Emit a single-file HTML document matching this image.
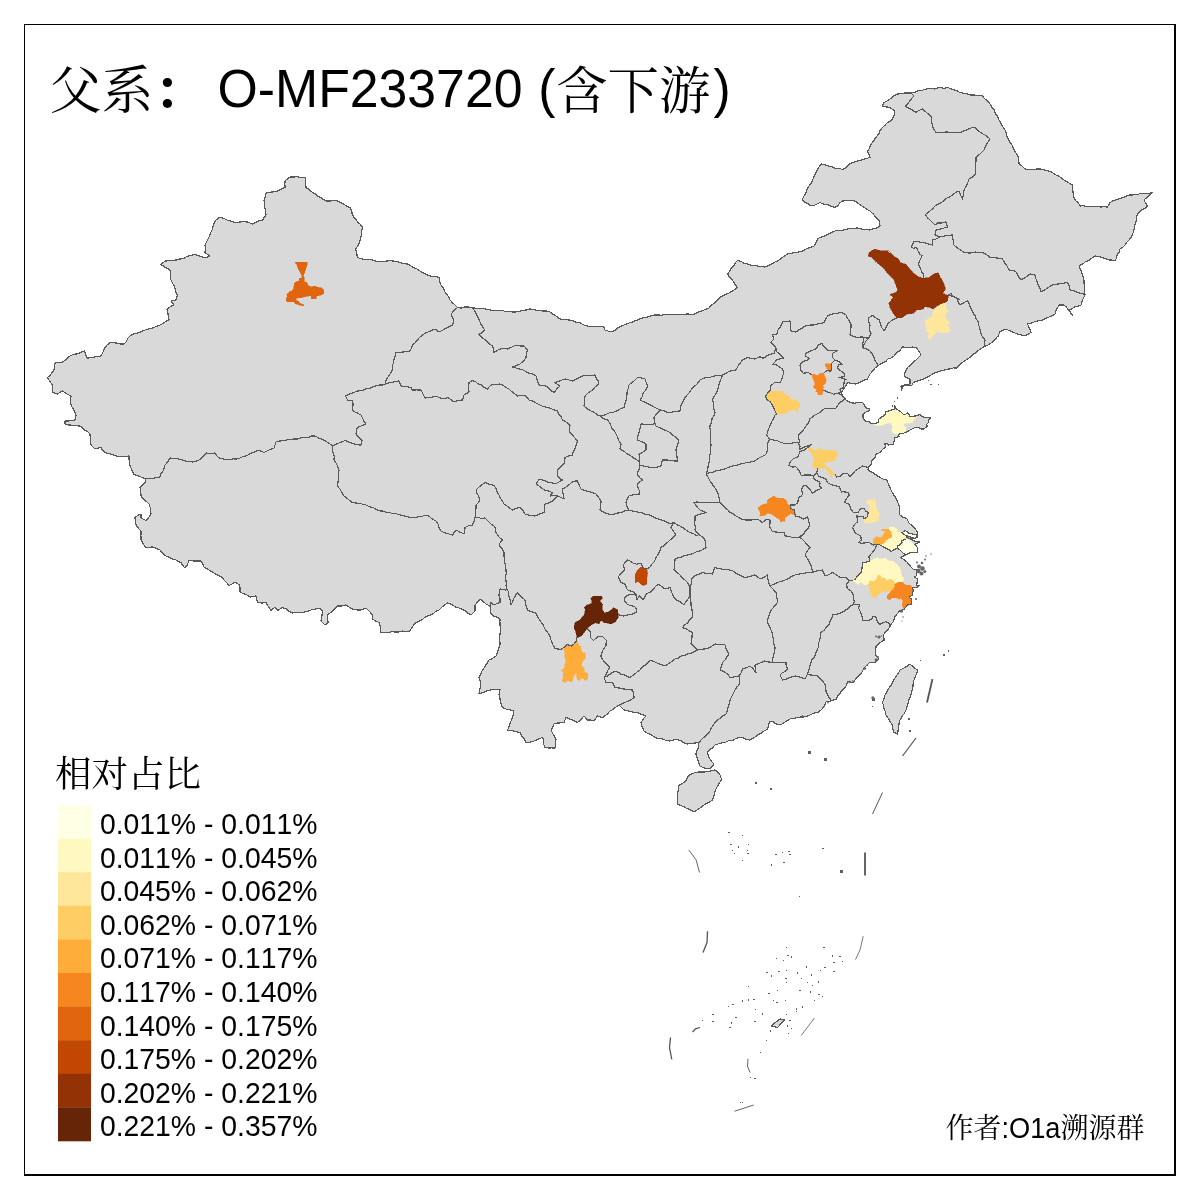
<!DOCTYPE html>
<html lang="zh">
<head>
<meta charset="utf-8">
<title>父系： O-MF233720 (含下游)</title>
<style>
html,body{margin:0;padding:0;background:#fff;}
body{width:1200px;height:1200px;overflow:hidden;position:relative;font-family:"Liberation Sans","Noto Serif CJK SC",sans-serif;}
svg{position:absolute;left:0;top:0;display:block;}
.land{fill:#d9d9d9;stroke:#595959;stroke-width:1.2;stroke-linejoin:round;shape-rendering:crispEdges;}
.bd{fill:none;stroke:#595959;stroke-width:1.2;stroke-linejoin:round;shape-rendering:crispEdges;}
.isl{fill:#d9d9d9;stroke:#595959;stroke-width:1.2;shape-rendering:crispEdges;}
.dash{fill:none;stroke:#555;stroke-width:1.6;}
.dot{fill:#666;}
.t{font-family:"Liberation Sans","Noto Serif CJK SC",sans-serif;fill:#000;font-kerning:none;}
.c{font-family:"Liberation Serif","Noto Serif CJK SC",serif;font-weight:400;fill:#000;}
</style>
</head>
<body>
<svg width="1200" height="1200" viewBox="0 0 1200 1200">
<rect x="0" y="0" width="1200" height="1200" fill="#ffffff"/>

<g id="land">
<path class="land" d="M290 177 L293.8 177 L297.5 176.7 L301.2 177.7 L305 177.5 L305.6 180.8 L305.8 184.2 L306 187.5 L309.1 189.4 L311.7 191.8 L314.8 193.6 L317.5 196 L320.5 197.3 L323.2 199.3 L326 201 L329.8 201.1 L333.7 200.6 L337.5 201 L340.6 202.7 L343.8 204.1 L346.6 206.3 L350 207.5 L351.8 210.7 L352.2 214.4 L354 217.5 L356.2 219.9 L358.2 222.5 L360.7 224.7 L362.5 227.5 L361.6 230.8 L361.6 234.3 L360.8 237.7 L360 241 L358.2 245.3 L355.5 249 L356.7 253.2 L357.5 257.5 L360.9 258.7 L364.4 259.4 L367.9 259.9 L371.6 259.8 L375 261 L378.5 261.5 L382 261.4 L385.5 261.3 L389 260.6 L392.5 261 L396.3 261.3 L400 262.4 L403.7 263.7 L407.5 264 L410.3 265.6 L413.1 267.4 L416.2 268.5 L418.9 270.3 L421.7 272.1 L424.5 273.7 L427.5 275 L431.3 276.2 L435.2 276.4 L439 277.5 L440 282.5 L441.3 285.6 L443.6 288.2 L444.7 291.4 L446.6 294.2 L448.6 296.9 L450 300 L452.4 302.6 L455 305 L457.5 307.5 L461.2 308 L465 307 L468.8 307.1 L472.5 307.5 L475.9 308.5 L479.4 308.9 L483.1 308.6 L486.5 309.2 L490 310 L493.2 310.3 L496.5 310.2 L499.7 310.7 L502.9 310.6 L506.1 311.7 L509.3 311.3 L512.5 312 L516.1 311.9 L519.6 311.3 L523.1 310.5 L526.6 309.9 L530 309 L533.4 309.4 L536.6 310.2 L540 310.8 L543.3 311 L546.7 311 L550 312 L553.3 314.4 L556.8 316.5 L560 319 L564.2 319.6 L568.3 319.9 L572.5 320.5 L576.1 322.3 L580.1 322.9 L583.6 324.9 L587.5 326 L590.8 326.4 L594.1 326.5 L597.4 326.1 L600.7 326.4 L604 327 L605 330 L611 332 L614.5 330.7 L617.4 328.2 L620.6 326.4 L624 325 L627.3 323.5 L630.8 322.5 L634.1 321.3 L637.5 320 L640.8 318.5 L644.3 317.5 L648 317 L651.4 315.7 L655 315 L658.2 315 L661.4 315.2 L664.6 314.3 L667.9 314.7 L671.1 314.5 L674.3 314.9 L677.5 314.5 L681 314.9 L684.5 314.2 L688 313.9 L691.5 314.5 L695 314 L698.3 312 L701.9 310.8 L705.5 309.4 L709 308 L711.5 305.1 L714.6 302.9 L717.3 300.1 L720 297.5 L723.2 295.6 L726.6 294.1 L730 292.5 L733.9 290.2 L737.5 287.5 L734.8 283.9 L732.5 280 L729.6 277.3 L727.5 274 L729.5 271.3 L731.2 268.4 L733.6 266 L735.2 263 L737.5 260.5 L740.8 261.2 L743.6 263.2 L746.9 263.7 L750 265 L753.8 265.3 L757.5 266 L761.2 266.7 L765 267 L768.2 265.7 L771.4 264.3 L774.3 262.3 L777.5 261 L780.8 258.6 L784.1 256.2 L787.5 254 L791.3 253.3 L795 252.6 L798.8 251.9 L802.5 251 L806.1 248.9 L810.1 247.5 L814 246 L816 242.6 L817.5 239 L820.2 237.2 L823.4 236.6 L826.3 235.2 L829.1 233.6 L832.1 232.3 L835 231 L838.2 230.3 L841.5 230.4 L844.6 229.7 L847.8 229 L851 228.3 L854.3 228.3 L857.5 228 L861.6 229.1 L865.8 229.5 L870 230 L873.4 228.8 L876.8 227.8 L880 226 L879 220 L875.6 217.4 L873.1 213.9 L870 211 L866.8 209.3 L863.9 207.1 L860.8 205.3 L857.9 203.1 L855 201 L850.8 200.6 L846.7 200.8 L842.5 201 L839.8 202.9 L837.8 205.7 L835 207.5 L831.2 206.5 L827.6 204.7 L823.6 204.2 L820 202.5 L817.1 204 L814.2 205.3 L811 206 L808.2 203.7 L804.8 202.2 L802 200 L803.9 196.2 L806 192.5 L807 189.4 L808.6 186.6 L810.5 184 L812.3 181.2 L813.3 178.2 L814.8 175.3 L816.1 172.3 L817.6 169.5 L819.2 166.7 L821 164 L824.7 164.6 L828.1 165.9 L831.8 166.6 L835.2 168.2 L839 168.4 L842.5 169.5 L846.1 167.5 L848.9 164.5 L852.5 162.5 L856 161.5 L859.5 160.6 L863 159.7 L866.5 158.4 L870 157.5 L868.8 154.2 L867.5 151 L869.4 148.3 L870.5 145.1 L872.5 142.5 L874.5 139.5 L876.6 136.6 L878.8 133.7 L880.2 130.3 L882.5 127.5 L884.9 125.3 L887.2 122.9 L890.1 121.3 L892.5 119 L894.1 115.1 L895 111 L890 107.5 L886.2 106.9 L882.5 106 L884 102.5 L887.6 100.7 L890.8 98.4 L893.8 95.7 L897.5 94 L900.9 93.7 L904.2 93 L907.6 93 L911 93 L914.6 92.4 L917.9 90.9 L921.5 90.4 L925 89.5 L928.2 88.7 L931.4 88.5 L934.7 89.1 L937.8 87.9 L941 87.7 L944.3 88.3 L947.5 87.5 L950.7 88.6 L953.9 89.7 L957 90.8 L960 92.5 L963.3 93.3 L966.8 93.7 L970 95 L974.2 95 L978.4 95.4 L982.5 96 L984.8 98.9 L987.8 101.1 L990 104 L991.8 107.1 L994 109.8 L995.2 113.3 L997.5 116 L998.9 119.8 L1000.8 123.2 L1002.7 126.7 L1005 130 L1006.2 133.1 L1007.1 136.4 L1008.6 139.4 L1010 142.5 L1012.2 145.4 L1013.5 148.9 L1015.3 152.1 L1017.5 155 L1018.8 159.4 L1019 164 L1022.2 166.2 L1025 169 L1028.8 169.3 L1032.5 169.3 L1036.2 169.1 L1040 169 L1043.2 169.5 L1046.3 170.5 L1049.5 171.3 L1052.5 172.5 L1055.1 174.7 L1058.4 175.8 L1061.1 177.7 L1063.8 179.8 L1066.7 181.6 L1069.6 183.3 L1072.5 185 L1072.8 189.2 L1073.1 193.4 L1074 197.5 L1075.6 200.6 L1078.4 202.9 L1080 206 L1083.5 205.6 L1086.9 206.7 L1090.3 206.8 L1093.8 206.4 L1097.2 206.5 L1100.6 207 L1104.1 206.8 L1107.5 207 L1110 202.5 L1113.2 200.8 L1116.6 199.7 L1119.9 198.5 L1123.4 197.6 L1126.5 195.9 L1130 195 L1133.2 194.9 L1136.5 194.8 L1139.6 193.8 L1142.9 193.6 L1146.1 193.4 L1149.3 193.2 L1152.5 192.5 L1149.6 194.9 L1146.8 197.5 L1144 200 L1145.5 203.1 L1147.5 206 L1145.3 208.4 L1142.2 209.6 L1139.7 211.7 L1137.5 214 L1136.5 217.5 L1136.2 221.1 L1134.9 224.5 L1134.7 228.1 L1133.4 231.5 L1132.5 235 L1130.3 238.5 L1127.4 241.6 L1125 245 L1122.7 247.2 L1120 249 L1119.2 252.2 L1117.2 254.9 L1116.5 258.1 L1115 261 L1111.7 260.1 L1108.2 259.8 L1105 258.4 L1101.7 257.4 L1098.4 256.5 L1095 256 L1091.9 258.2 L1088.8 260.3 L1085.3 261.9 L1082.3 264.2 L1079 266 L1080.5 269.4 L1081.8 272.9 L1082.9 276.5 L1084 280 L1084.1 283.8 L1084.6 287.5 L1084.6 291.3 L1085 295 L1083.4 298.2 L1082 301.5 L1081 305 L1078 306.2 L1074.8 307 L1072 308.7 L1069 310 L1072.5 315 L1070.4 312.5 L1068.4 309.9 L1066.5 307.2 L1064 305 L1059 305 L1057.5 307.9 L1055.9 310.8 L1055 314 L1052 315.8 L1048.8 317.1 L1045.5 318.3 L1042.5 320 L1038.7 320.8 L1034.9 321.6 L1031.3 323.2 L1027.5 324 L1029.4 328.2 L1031 332.5 L1028 334.3 L1025 336 L1021.3 334.9 L1017.5 334.1 L1014 332.5 L1010 330.9 L1006 329 L1002.9 330.2 L1000 331.7 L997.5 337.5 L994.4 339.8 L991.7 342.5 L988.1 344.9 L984.2 346.7 L981.4 348.5 L978.6 350.2 L976.2 352.6 L973.3 354.2 L970.3 357.1 L966.9 359.5 L963.3 361.7 L959.9 364.7 L956.7 368 L953.3 367.9 L950 368.9 L946.7 369.2 L943.4 370.4 L940 371.1 L936.7 372.5 L933.3 373.3 L930.2 375.7 L926.8 377.5 L923.3 379.2 L919.9 380.2 L916.6 381.4 L913.3 382.5 L911.7 385.8 L908.3 385 L902.5 386.3 L901.7 390 L901 386 L905.5 384.8 L910 384 L910 379 L906.9 377.6 L904 376 L905.4 371.6 L907.5 367.5 L910.4 365.2 L912.8 362.4 L915.7 360.2 L918.4 357.6 L921 355 L918.9 351 L916 347.5 L912.6 347 L909.2 347.7 L905.9 347.2 L902.5 347 L900.1 350.4 L896.6 352.8 L894 356 L891.4 357.9 L888.2 358.9 L885.9 361.3 L883 362.7 L880.3 364.3 L877.5 366 L874.7 368.4 L872.4 371.3 L870 374 L867.5 379 L863.5 380.3 L859.9 382.5 L856 384 L851.7 383.7 L847.5 382.5 L845.6 386 L843.6 389.4 L841 392.5 L843.3 396.4 L846 400 L850 402.5 L855 403.3 L856.7 402.1 L862.5 402.3 L864.6 405.8 L867.1 408.3 L869.6 408.8 L868.8 410.8 L865 412.5 L862.9 414.6 L862.9 417.5 L865 420.8 L869.2 421.7 L870.4 423.3 L875 423.3 L877.9 422.5 L878.8 419.2 L881.7 417.1 L885.8 414.2 L885.8 411.7 L889.2 410.8 L895 408.8 L894.2 405.8 L895.4 406.7 L896.2 408.8 L900 411.2 L903.3 414.2 L905.8 414.2 L907.5 412.5 L910 416.2 L913.4 416.2 L916.7 415.8 L920 414.2 L921.7 416.7 L925.8 417.5 L930.4 417.9 L928.8 420 L928.8 422.5 L926.7 424.2 L927.1 426.7 L923.3 429.2 L920.8 428.8 L918.3 427.1 L915 427.5 L910 430 L907.5 431.7 L903.3 433.3 L898.3 434.2 L899.2 436.7 L895 437.5 L894.2 440.8 L893.3 444.2 L888.3 445 L886.7 443.3 L884.2 443.8 L885.8 445.8 L885 447.9 L882.5 449.2 L880.4 452.5 L875.8 454.2 L875 457.5 L872.1 460 L871.2 464.2 L869.2 465.8 L867.9 470 L872.5 472.5 L877.5 475.8 L880.7 477.9 L884.2 479.6 L886.7 480 L889.2 485.8 L891 490.1 L893.3 494.2 L895.8 497.7 L897.5 501.7 L899 505.3 L899.6 509.2 L899.2 514.2 L902.5 517.1 L906.7 518.3 L909.2 523.3 L913.3 526.7 L916.7 530.8 L917.9 535 L917.5 537.5 L915 538.3 L910.8 539.2 L915.8 541.7 L920 542.1 L915 544.2 L917.9 548.3 L917.5 552.5 L914.1 552.3 L910.8 552.5 L905.8 555 L900.8 557.5 L904.2 560 L907.1 562.1 L909.2 565 L913.3 569.2 L916.7 570 L916.7 575.8 L914.2 576.7 L917.5 579.2 L916.7 585 L919.2 585.4 L916.7 587.5 L912.5 587.5 L913.3 590 L912.5 595 L909.2 597.5 L911.7 599.2 L911.7 604.2 L907.5 605 L904.2 609.2 L900 610.8 L898.3 612.5 L895 616.7 L893.3 621.7 L891.7 623.3 L890 626.7 L887.5 630 L885 632.5 L883.3 635 L884.2 640 L880 642.7 L876 646.7 L875.8 650.7 L875.3 654.7 L878.7 658.7 L874.7 662.7 L869.3 662.7 L866.6 665.3 L864 668 L861.3 673.3 L858.5 675.9 L856 678.7 L853.3 682.7 L847.3 681.3 L846.7 685.3 L844.4 687.9 L841.9 690.3 L840 693.3 L837.6 696 L836 699.3 L831.3 700.7 L826 702 L824 706.7 L821.5 709.5 L818.7 712 L813.3 713.3 L808 716 L804.7 716.8 L801.3 717.3 L802.5 716 L799.5 717.3 L796.3 717.9 L793.1 718.3 L790 719 L786.6 720.9 L783.5 723.2 L780 725 L776.5 724.1 L773.4 722.1 L770 721 L768.6 724.9 L767.5 729 L764.2 731 L761 733.3 L757.5 735 L753.9 737.8 L750 740 L746.6 739.4 L743.4 738 L740 737.5 L736.1 738.3 L732.7 740.5 L728.6 740.8 L725 742.5 L721.6 742.9 L718.3 743.9 L715 745 L712.7 747.7 L709.6 749.6 L707.5 752.5 L709 757.5 L711.2 761 L714 764 L711.8 766.8 L709 769 L704.3 768 L700 766 L698.5 762.4 L697.4 758.6 L696 755 L696.2 751.8 L698 748.9 L698.4 745.7 L699 742.5 L695.2 743 L691.3 743.5 L687.5 744 L684 742.9 L680.9 740.8 L677.5 739.5 L673.7 740 L670 741 L666.1 740.6 L662.6 738.9 L658.7 738.5 L655 737.5 L651.6 734.9 L647.6 733.3 L644 731 L642.2 726.9 L641 722.5 L643.2 719 L646 716 L641.7 714.4 L637.5 712.5 L634 712.3 L630.7 711.6 L627.4 710.7 L624 710 L621.5 707.5 L619 705 L616 706.9 L613.2 709.3 L610 711 L607.8 713.6 L605.3 715.6 L602.5 717.5 L597.5 716 L594 721 L590.8 720.1 L587.5 720 L584 716 L581 719.5 L577.5 722.5 L573.7 720.6 L569.9 719.1 L566 717.5 L564 722.5 L560.7 722.9 L557.3 723 L554 724 L552.7 727.1 L551 730 L552.5 733.1 L554.3 736 L556 739 L555.6 743.5 L555 748 L551.7 747.9 L548.3 748 L545 747.5 L543.7 744.3 L543.8 740.7 L542.5 737.5 L538.2 739.1 L534 741 L530.1 742.1 L526 742.5 L524.3 739 L521.7 736 L520 732.5 L515.9 731.5 L511.7 730.7 L507.5 730 L509 727.1 L509.7 724 L511 721 L512.5 717.8 L513.2 714.4 L514 711 L510.2 709.9 L506.2 709.1 L502.5 707.5 L501.4 704.4 L500.4 701.4 L499.9 698.1 L499 695 L500 689.5 L496.6 689.3 L493.3 689.6 L490 690 L486.3 691.2 L482.7 692.7 L479 694 L479.8 689.4 L481 685 L480.3 681.2 L479 677.5 L480.9 673.8 L482.5 670 L484.8 666.8 L486.9 663.4 L489 660 L492.7 658.3 L496 656 L497.4 652.4 L498.4 648.6 L500 645 L499.9 641.8 L499.8 638.5 L499.8 635.2 L500.4 632 L500.2 628.8 L500.1 625.5 L499.9 622.2 L500 619 L497 617.3 L493.8 616 L491 614 L490.5 610 L490 606 L486 604 L483.1 601.4 L480 599 L477.6 602.1 L475 605 L475 611 L471 615 L468 613.2 L465.3 611 L462.2 609.4 L459 608 L455 606.8 L451.5 604.2 L447.5 603 L444.5 605.1 L441.6 607.4 L439 610 L436 611.3 L433.4 613.4 L430.6 615 L427.4 616.1 L424.5 617.5 L422 619.8 L419.1 621.4 L416 622.5 L413.6 625 L411.6 627.9 L410 631 L406.3 631.5 L402.5 631.1 L398.8 632 L395 632 L391.5 631.7 L388 632.8 L384.5 632.3 L381 632.5 L380.2 629.2 L380.1 625.8 L379.5 622.5 L375.8 621.2 L372.5 619 L372.5 615 L369.4 611.4 L366 608 L361 610 L356.7 609.9 L352.5 609 L349.2 607.1 L346 605 L341.8 606 L337.5 606 L335.1 608.3 L332.8 610.8 L330.1 612.9 L327.5 615 L327.8 618.7 L328 622.5 L325 625 L321 621 L321.7 617.7 L322.1 614.4 L322.5 611 L319 608 L315.5 609 L311.9 609.6 L308.5 611.1 L305 612 L300.9 612.7 L296.7 612.5 L292.5 613 L289.1 611.3 L286.1 608.9 L282.5 607.5 L277.5 610.5 L275 607 L271 610.5 L268.4 606.6 L266 602.5 L261.8 603 L257.5 602.5 L256.6 599.3 L256 596 L250 597 L246.9 594.9 L243.3 593.7 L240 592 L240.1 588.5 L239.5 585 L235 582 L232.1 583.9 L229 585.5 L226.9 582.8 L224.3 580.5 L222.5 577.5 L219.3 576 L216.1 574.4 L213.2 572.3 L210.1 570.7 L207.1 568.7 L204 567 L202.6 563.9 L201 561 L197 561.1 L193 560.9 L189 560.5 L187.5 564.5 L185 568 L182.7 565.5 L181 562.5 L177.9 561.3 L175.2 559.5 L171.9 558.9 L169 557.4 L166 556 L162.6 553.4 L160 550 L156.3 548.4 L152.5 547 L149.3 547.3 L146 547.5 L143.3 543.9 L141 540 L140.9 535.5 L141 531 L138.3 528.2 L136 525 L135.4 521.3 L135 517.5 L137.8 515.5 L141 514 L141 518 L146 520.5 L148.7 517.4 L151 514 L150.8 510.6 L150.1 507.2 L149 504 L146.2 501.4 L143.3 499 L141 496 L140.8 491.5 L140 487 L142.5 485 L145 483 L146 479 L143 477.8 L140.1 476.6 L137.1 475.3 L134 474.5 L132 470.2 L130 466 L129.6 462.7 L128.9 459.4 L129 456 L125.8 456.5 L122.5 456.4 L119.2 456.4 L116 456 L112.5 454.4 L108.7 453.6 L105 452.5 L102.6 450.3 L101 447.5 L95 449 L91 445 L90.5 441.4 L90.2 437.7 L90 434 L87.7 431.7 L84.9 430.1 L82.5 428 L80 426 L76.2 425.8 L72.5 425.2 L68.7 425 L65 424 L65 421 L68.4 421 L71.7 420.3 L75 420 L76 415 L74.6 411.6 L72.7 408.3 L71 405 L70.5 400.5 L71 396 L68 394.6 L65.2 392.8 L62.5 391 L57.5 394 L52.5 392.5 L52.8 388.8 L52.5 385 L49.9 381.3 L47.5 377.5 L50.1 375.3 L52.1 372.7 L54 370 L54.7 366.5 L55 363 L58.8 362.5 L62.5 362 L65.1 360.2 L67.4 357.9 L70 356 L73.5 354.3 L77.4 353.9 L80.9 352.2 L84.5 351 L85.5 354.7 L87.5 358 L90.9 357.8 L94.3 357.1 L97.6 356.4 L101 356 L103.2 351.8 L105 347.5 L107.3 344.8 L110 342.5 L113.5 342.7 L117 343.1 L120.5 344 L124 344 L126.4 341.6 L127.6 338.4 L130 336 L132.8 334.3 L135.9 333.4 L139.1 332.6 L142 331.1 L145 330 L148.8 329 L152.7 328 L156.3 326.4 L160 325 L163.1 323.5 L165.8 321.3 L169 320 L168.4 316.3 L167.8 312.6 L167 309 L170.3 306.7 L174 305 L171 301 L176 300 L177.5 295 L175.7 292.2 L175.1 288.9 L174.1 285.8 L172.4 282.9 L171 280 L170.3 276.7 L170.7 273.3 L170 270 L166.9 268.3 L163.9 266.5 L161 264.5 L165 261 L168.8 260.8 L172.5 260.3 L176.3 260 L180 259 L183.9 258.3 L187.3 256.2 L191.2 255.3 L195 254.5 L198.3 255.8 L201.8 256.6 L205 258 L210 256 L205 252.5 L205.4 248.8 L205 245 L206.6 242 L208 238.9 L209.6 235.8 L210.7 232.6 L212.3 229.6 L213.2 226.2 L214.3 223 L216 220 L220 217 L223.7 218.4 L227.3 220.2 L231.2 221.2 L235 222.5 L239.2 222.1 L243.3 221.7 L247.5 222 L252.5 224 L255.7 222.3 L259 220.9 L262.5 220 L266 215 L265.7 211.2 L264.8 207.5 L264.4 203.8 L264 200 L265.5 196.6 L266 193 L269.8 192.2 L273.7 191.8 L277.5 191 L281.2 189.1 L285 187.5 L284.9 184.2 L285 181 L287.4 178.9Z"/>
<path class="isl" d="M688.3 775.8 L691.6 774.1 L695 772.5 L698.9 771.9 L702.8 772.1 L706.7 771.7 L710.9 770.9 L715 770 L717.7 772.3 L720 775 L721.7 780 L719.7 782.3 L718.3 785 L716.3 788.2 L715 791.7 L713.9 795.9 L712.5 800 L709.7 801.8 L706.7 803.3 L703.8 805.1 L701.1 807.2 L698.3 809.2 L694.2 811.7 L690.5 810 L686.7 808.3 L683.7 806.7 L680.6 805.4 L677.5 804.2 L677.3 800.5 L677.5 796.7 L677.8 793.1 L678.3 789.5 L678.3 785.8 L681.8 784 L685 781.7 L686.9 778.9Z"/>
<path class="isl" d="M910 664 L912.4 666.2 L914.9 668.1 L917.5 670 L916.7 673.5 L915.3 676.7 L914 680 L913.2 683 L913 686 L912.5 689.1 L911.5 692 L911 695 L909.8 697.9 L908.6 700.9 L907.8 703.9 L907 707 L906 710 L904.3 713.5 L901.9 716.6 L900 720 L899.1 723.4 L898.7 727 L898.1 730.5 L897.5 734 L894 732.5 L892.9 728.8 L892.5 725 L890.2 721.7 L888.2 718.3 L886 715 L885.4 711.8 L884.1 708.8 L883.6 705.6 L882.5 702.5 L883.8 698.8 L885 695 L886.9 691.9 L888.5 688.6 L890.8 685.7 L892.5 682.5 L894.1 679.2 L896.2 676.2 L898.4 673.3 L900 670 L903.5 668.3 L906.8 666.3Z"/>
<path class="isl" d="M771 1026 L780 1019 L784.5 1020 L777.5 1027.5Z"/>
</g>
<g id="regions">
<path d="M294.8 262 L307 262 L307 265.2 L304.4 273.3 L303.3 275.7 L304.4 277.4 L304.4 281.8 L306.5 282.4 L308.2 285.6 L310.3 286.8 L315.5 286.2 L316.7 287 L321.6 287.9 L324 290.3 L323.7 293.5 L320.2 295.2 L316.4 296.1 L316.1 298.7 L311.1 298.7 L311.1 295.8 L307.9 296.1 L302.1 297.5 L296.5 298.1 L296 300.5 L298.6 301.3 L300.3 303.7 L303.8 304.6 L303.8 306 L298.6 304.8 L295.4 303.7 L293.6 301.9 L286.9 301.6 L286 299.6 L287.5 296.1 L286.9 294.3 L289.3 292 L292.2 290.8 L293.9 287.9 L294.2 283.3 L296.5 281.8 L299.2 280.3 L299.2 278.3 L301.8 278 L302.1 275.7 L298.6 269.8 L296.8 264.6Z" fill="#e1640e" stroke="#e1640e" stroke-width=".5" shape-rendering="crispEdges"/>
<path d="M868.8 252.5 L874.6 249.2 L880.8 250.8 L887.5 250.8 L893.3 255.8 L898.3 258.8 L900 262.5 L905.8 264.2 L909.2 268.3 L913.3 272.9 L918.3 276.7 L923.3 278.3 L929.2 277.5 L933.3 274.2 L938.3 272.5 L940 276.7 L942.5 280.8 L945 286.7 L945 290 L942.5 293.3 L948.3 295.8 L947.5 300.8 L945 303.3 L940 304.2 L935 307.5 L933.3 309.2 L930 307.5 L925 306.7 L923.3 309.2 L916.7 310 L913.3 313.3 L906.7 314.2 L901.7 317.9 L896.7 317.9 L893.3 313.3 L890.8 309.2 L888.8 302.5 L893.3 297.5 L890.4 295 L890.4 294.2 L895.8 292.5 L897.9 290 L895.8 285 L894.2 280 L890.8 276.7 L887.5 273.3 L885 270 L880.8 265.8 L876.7 262.5 L872.5 257.5 L868.3 256.2Z" fill="#933204" stroke="#933204" stroke-width=".5" shape-rendering="crispEdges"/>
<path d="M945.8 302.9 L945.8 307.5 L948.8 311.7 L945 313.3 L945 317.5 L950 322.5 L947.5 325.8 L950 330 L947.5 332.5 L941.7 332.5 L937.5 331.7 L933.3 335 L929.2 340.4 L928.3 335.8 L929.2 332.5 L926.2 331.7 L926.7 327.5 L925 325 L925 320.8 L929.2 318.3 L932.5 316.7 L932.5 312.5 L935 309.2 L938.3 306.7 L940 304.6 L943.3 303.3Z" fill="#fee79b" stroke="#fee79b" stroke-width=".5" shape-rendering="crispEdges"/>
<path d="M825 363.8 L831.2 363.8 L830.8 366.7 L831.7 368.3 L830.8 371.7 L829.2 372.1 L827.9 370 L826.7 367.5 L825.4 365.8Z" fill="#f68720" stroke="#f68720" stroke-width=".5" shape-rendering="crispEdges"/>
<path d="M812.1 375 L814.2 374.2 L817.5 375.8 L820 373.3 L823.8 372.9 L824.6 376.7 L826.2 379.2 L825.8 383.3 L822.9 385 L823.3 390 L822.1 394.6 L818.3 394.6 L817.9 392.5 L815.8 391.7 L817.1 389.2 L814.2 388.3 L813.3 386.7 L815 385 L814.2 380.8 L812.9 379.2Z" fill="#f68720" stroke="#f68720" stroke-width=".5" shape-rendering="crispEdges"/>
<path d="M765.4 396.7 L767.1 393.8 L770 391.2 L782.5 391.2 L785 394.2 L789.2 395.8 L791.2 399.6 L796.7 400 L800 403.8 L799.6 406.7 L797.9 409.2 L796.7 412.9 L795.4 410 L792.9 409.2 L786.7 412.9 L776.7 414.6 L774.6 410 L772.5 405 L770 401.7 L767.5 400Z" fill="#fece65" stroke="#fece65" stroke-width=".5" shape-rendering="crispEdges"/>
<path d="M874.2 424.6 L875 423.3 L877.9 422.5 L878.8 419.2 L881.7 417.1 L885.8 414.2 L885.8 411.7 L889.2 410.8 L895 408.8 L896.2 408.8 L900 411.2 L903.3 414.2 L905.8 414.2 L907.5 412.5 L910 416.2 L916.7 416.2 L913.3 420 L912.5 422.9 L904.2 423.3 L903.3 425.4 L905.8 427.5 L905.8 430.8 L903.3 433.3 L898.3 434.2 L893.3 433.3 L891.2 430 L892.9 427.9 L891.7 424.2 L890 422.9 L886.7 423.3 L883.3 425 L879.2 425.4 L876.7 425.8Z" fill="#fff8c1" stroke="#fff8c1" stroke-width=".5" shape-rendering="crispEdges"/>
<path d="M807.9 448.8 L810 447.1 L814.2 450.4 L818.3 449.6 L821.7 447.1 L822.1 450.8 L827.5 450 L834.2 450 L837.9 452.9 L837.5 455.8 L835 457.9 L835.8 460.8 L830.8 461.2 L825.4 462.1 L824.2 463.8 L827.5 467.5 L830 469.2 L835 474.6 L832.5 475 L831.7 477.5 L830 475 L828.3 471.7 L825 467.9 L817.5 468.3 L814.2 467.9 L812.1 465.4 L813.8 461.7 L813.3 456.7 L811.7 453.3 L809.6 450.8Z" fill="#fece65" stroke="#fece65" stroke-width=".5" shape-rendering="crispEdges"/>
<path d="M758.3 507.5 L760.8 505.8 L763.3 504.2 L767.1 503.8 L767.5 500 L770.8 497.5 L774.2 496.2 L776.7 497.9 L783.3 498.3 L786.7 500.8 L786.7 503.3 L790 505.8 L790.8 508.3 L794.2 510 L795.4 512.5 L795.4 516.2 L793.3 514.2 L790.8 513.8 L787.9 515.4 L785 517.9 L784.6 521.2 L780.4 521.7 L779.6 519.2 L775 516.7 L770.8 513.8 L767.5 513.3 L765 515.4 L759.6 515.8 L760.4 512.5 L758.8 510Z" fill="#f68720" stroke="#f68720" stroke-width=".5" shape-rendering="crispEdges"/>
<path d="M866.2 501.7 L868.3 500 L872.1 499.2 L875 500 L875.8 505 L876.7 509.2 L878.3 511.7 L879.6 514.6 L878.3 516.7 L878.8 520.4 L871.7 522.5 L864.2 522.5 L864.2 519.2 L867.5 516.7 L868.8 515 L868.3 511.7 L870 508.3 L869.2 505 L867.1 503.3Z" fill="#fee79b" stroke="#fee79b" stroke-width=".5" shape-rendering="crispEdges"/>
<path d="M888.3 529.2 L889.2 527.5 L894.2 527.1 L897.1 529.2 L897.5 531.7 L901.7 533.3 L905.8 536.7 L901.7 540.8 L902.1 542.9 L899.6 545 L897.5 545.8 L897.9 548.3 L894.2 549.6 L891.2 551.7 L889.2 550 L885.4 547.9 L881.7 545.8 L882.5 543.8 L886.7 540 L891.7 537.1 L891.2 531.7Z" fill="#fff8c1" stroke="#fff8c1" stroke-width=".5" shape-rendering="crispEdges"/>
<path d="M881.2 530.4 L882.9 529.2 L888.3 529.2 L891.2 531.7 L891.7 537.1 L886.7 540 L882.5 543.8 L879.2 544.6 L876.7 544.2 L873.3 544.6 L873.3 539.6 L875.8 536.7 L881.7 537.5 L883.3 535 L885.4 531.2 L883.3 530.8Z" fill="#feac3a" stroke="#feac3a" stroke-width=".5" shape-rendering="crispEdges"/>
<path d="M905.8 539.2 L909.2 539.6 L913.3 544.2 L916.7 547.5 L917.5 552.1 L910.8 552.5 L905.8 555 L903.3 553.3 L900.8 550.8 L897.9 548.3 L897.5 545.8 L899.6 545 L902.1 542.9 L901.7 540.8Z" fill="#ffffe5" stroke="#ffffe5" stroke-width=".5" shape-rendering="crispEdges"/>
<path d="M901.7 532.9 L905 530.4 L909.2 533.3 L916.7 535 L917.1 537.5 L914.2 538.3 L909.2 536.7 L905 535Z" fill="#ffffe5" stroke="#ffffe5" stroke-width=".5" shape-rendering="crispEdges"/>
<path d="M852.9 580.8 L858.3 575 L861.7 570.8 L862.5 562.5 L869.2 561.2 L873.3 559.2 L876.7 557.5 L880 559.2 L885.4 558.3 L888.3 560.8 L893.3 561.2 L897.5 565 L900.4 569.2 L901.2 575 L903.8 578.3 L902.5 582.1 L898.3 582.1 L895 584.2 L893.3 580.8 L890 579.2 L886.2 580.8 L885 578.3 L881.7 578.3 L880 575 L877.5 575.8 L876.7 579.2 L873.3 581.7 L870 580.8 L868.3 584.2 L864.2 585 L861.2 581.7 L857.9 584.6 L855.4 582.5Z" fill="#fff8c1" stroke="#fff8c1" stroke-width=".5" shape-rendering="crispEdges"/>
<path d="M868.3 584.2 L870 580.8 L873.3 581.7 L876.7 579.2 L877.5 575.8 L880 575 L881.7 578.3 L885 578.3 L886.2 580.8 L890 579.2 L893.3 580.8 L895 584.2 L894.2 588.3 L891.7 590.8 L887.5 591.7 L883.3 590.8 L880 593.3 L876.7 595.8 L875 598.3 L872.1 596.7 L871.7 593.3 L869.2 592.5 L869.6 588.3Z" fill="#fece65" stroke="#fece65" stroke-width=".5" shape-rendering="crispEdges"/>
<path d="M895 584.2 L898.3 582.1 L902.5 582.1 L904.2 584.2 L906.7 585.4 L910.8 585.4 L913.3 590 L912.5 595 L909.2 597.5 L911.7 599.2 L911.7 604.2 L907.5 605 L904.2 609.2 L902.1 605.8 L902.9 600.8 L900.8 598.3 L898.3 599.2 L896.7 597.5 L891.7 597.5 L889.2 600 L887.1 598.3 L887.5 595 L890 592.5 L891.7 590.8 L894.2 588.3Z" fill="#f68720" stroke="#f68720" stroke-width=".5" shape-rendering="crispEdges"/>
<path d="M641.2 566.9 L643.5 568.8 L646.7 568.8 L647.6 573.3 L646.7 578.8 L646.7 584.3 L643 585.7 L640.7 584.3 L637.5 581.6 L635.2 583 L635.2 574.3 L637.5 570.1Z" fill="#c14702" stroke="#c14702" stroke-width=".5" shape-rendering="crispEdges"/>
<path d="M590.8 598.1 L593 596.3 L601.8 596.3 L602.7 598.1 L599.9 600.8 L602.7 604.5 L601.8 609.1 L605 613.2 L610 610.9 L613.7 607.7 L617.8 610 L618.3 617.3 L615.5 621.9 L610.9 623.8 L604.5 622.8 L600.8 620.1 L599 623.8 L595.3 622.8 L591.7 624.7 L587.1 628.3 L582.5 634.8 L578.8 637.5 L577 636.6 L576.1 632.9 L574.3 628.3 L574.7 622.8 L579.8 620.1 L584.3 614.6 L585.3 610 L584.3 607.3 L587.1 605 L591.7 603.6 L592.1 600.8Z" fill="#662506" stroke="#662506" stroke-width=".5" shape-rendering="crispEdges"/>
<path d="M563.3 647.5 L566.7 644.6 L570.8 646.7 L576.7 643.3 L577.5 640.8 L578.3 645 L580.8 646.7 L581.2 651.7 L585.4 653.3 L585.4 658.3 L582.5 661.7 L581.2 665.4 L584.2 668.3 L584.6 672.5 L587.9 673.3 L587.9 678.3 L585.4 680.8 L583.3 678.3 L580.8 678.3 L579.2 680.8 L577.1 679.6 L576.7 674.2 L575.4 673.3 L573.3 676.7 L572.5 680.8 L570.8 682.1 L567.9 680.4 L565 682.5 L562.1 681.2 L563.3 676.7 L563.3 671.7 L561.2 670.4 L564.6 668.3 L565 664.2 L566.2 660.8 L565 657.5 L564.6 651.7Z" fill="#feac3a" stroke="#feac3a" stroke-width=".5" shape-rendering="crispEdges"/>
</g>
<g id="borders">
<path class="bd" d="M146 479 L149.5 478.2 L153.1 478.4 L156.5 477.5 L160 477 L160.9 473.9 L162.9 471.2 L164.2 468.2 L165 465 L167.9 461.8 L170 458 L174.2 458.5 L178.4 459 L182.5 460 L185.7 461.1 L189.1 461.6 L192.5 462 L196.4 461.2 L200 459.5 L203.2 456.4 L206 453 L210.5 453.5 L215 453 L216.8 455.7 L219 458 L222.6 458.8 L226.3 459.5 L230 459.5 L233.3 458.9 L236.7 459 L240 458 L243.5 456.4 L247.2 455.5 L250.5 453.5 L254.1 452.1 L257.5 450.5 L260.9 451 L264 452.5 L267.3 450.8 L270.6 449.3 L274 448 L276 442 L279.1 441 L282.3 440.8 L285.5 440.2 L288.6 439.6 L291.8 439.2 L295 439 L298.4 438.9 L301.6 437.7 L305 437.7 L308.4 437.5 L311.6 436 L315 436 L318.7 438 L322.5 439.5 L326.1 441.3 L329.4 443.5 L332.5 446"/>
<path class="bd" d="M385.5 384 L382.3 385 L378.9 385.1 L375.7 385.8 L372.5 387 L369.5 388.3 L366.2 388.5 L363.4 390.2 L360.2 390.8 L356.9 391.1 L354 392.5 L349.6 393.9 L345.5 396 L347.5 400 L352.5 401 L353.1 404.3 L352.8 407.7 L353 411 L357 412.9 L361 415 L362.5 418.1 L364 421.2 L366 424 L361.7 425.7 L357.5 427.5 L356.3 430.6 L356 434 L358.7 437.3 L362 440 L361 445 L359 445 L355.4 444.2 L351.9 443.2 L348.4 441.9 L345 440.5 L341.9 441.9 L338.7 443.1 L335.5 444.3 L332.5 446"/>
<path class="bd" d="M457.5 307.5 L454.1 310.6 L451 314 L452.3 317.1 L454 320 L452.5 325 L449.1 326.7 L445.7 328.3 L442.4 330.3 L439 332 L435 329 L431.8 330.3 L428.6 331.7 L425.5 333.1 L422.5 335 L419.8 337.3 L417.4 339.9 L415.3 342.8 L412.5 345 L411.4 348.1 L410 351 L406.5 351.4 L403 352 L399.5 352.5 L396 352.5 L395.3 355.9 L394 359.1 L393.7 362.6 L392.2 365.7 L392.4 369.3 L391 372.5 L388.6 376.3 L386 380 L385.5 384"/>
<path class="bd" d="M332.5 446 L332.6 449.5 L333 453 L334.2 456.4 L334 460 L336 463.1 L337.8 466.5 L339 470 L338.6 473.2 L338.8 476.4 L338.2 479.6 L338 482.8 L337.5 486 L340 489.1 L341.9 492.6 L344 496 L346.9 498.1 L349.6 500.4 L352.5 502.5 L355.9 503 L359.3 503.3 L362.7 504.2 L366 505 L369.4 506.7 L373.2 507.5 L376.5 509.5 L380 511 L383.4 511.1 L386.6 512.7 L390.1 512.7 L393.3 513.7 L396.8 513.9 L400 515 L404.2 515.9 L408.3 517 L412.5 517.5 L416 517.3 L419.3 516.6 L422.7 516.1 L426 515 L429.6 516.5 L432.5 519.3 L436 521 L438.1 524.1 L439 527.8 L441 531 L444.7 532.8 L448.6 533.9 L452.5 535 L456 530 L459.9 532.1 L464 534 L464.8 530.8 L465 527.5 L468.6 525.8 L472.5 525 L474.1 521.4 L475 517.5"/>
<path class="bd" d="M385.5 384 L388.8 382.8 L392.2 382.2 L395.6 381.5 L399 381 L401 386 L404.3 386.7 L407.7 386.9 L411 387.5 L412.5 390 L416.8 389.9 L421 390 L423 394 L425 398 L428.7 397.6 L432.4 397 L436 396 L439.9 397.9 L444 399 L447.5 397.5 L450.9 399.6 L454 402 L458.1 400.5 L462.5 400 L464 395 L469 392 L468.6 387.2 L469 382.5 L472.5 380.5 L475.7 381.8 L478.4 384.1 L481.7 385.2 L484.4 387.5 L487.5 389 L489.6 386.3 L492.5 384.5 L496.3 384.5 L500 384 L503.1 385.4 L505.9 387.5 L509 389 L511.7 391.6 L514.6 393.8 L517.5 396 L521.8 395.5 L526 396 L529 400 L532.9 401.2 L536.4 403.2 L540 405 L543.4 406.6 L547 407.4 L550.6 408.4 L554 409.8 L557.5 411 L558.9 414.2 L561.1 416.8 L562.5 420 L566.5 422.2 L570 425 L569.5 428.8 L570 432.5 L572.6 435.3 L575 438.1 L577.5 441 L576.4 444.6 L575.3 448.1 L573.4 451.4 L572.5 455 L568.6 455.9 L565 457.5 L564.8 460.8 L564 464 L560.6 466.8 L557.5 470 L557.5 476 L559.7 478.4 L562.5 480 L558.8 482.1 L555 484 L551.9 482.6 L548.5 482.6 L545.5 480.9 L542.3 480 L539 479.5 L536 484 L538.8 485.8 L541.5 487.8 L544 490 L548.3 491 L552.5 492.5 L550 496 L553.8 495.6 L557.5 496"/>
<path class="bd" d="M475 517.5 L475.7 513.4 L475.9 509.2 L476 505 L478.2 502.7 L480 500 L478.8 496.6 L477.1 493.4 L476 490 L478.7 487.2 L481.8 484.8 L485 482.5 L489.4 484.3 L494 485.5 L496 488.3 L497 491.5 L498.7 494.4 L500 497.5 L502.2 500.6 L504 504 L506.9 505.9 L509.6 508.1 L512.5 510 L516.1 508.4 L520 507.5 L522.8 510.5 L525 514 L528.3 515 L531.6 515.6 L535 516 L537.9 514.7 L540.9 513.4 L544 512.5 L544.6 508.3 L545 504 L548.9 502.9 L552.5 501 L555.2 498.7 L557.5 496"/>
<path class="bd" d="M557.5 496 L560.8 497.4 L564 499 L563.6 495.6 L562.8 492.4 L562.5 489 L565.7 487.2 L568.8 485 L571.6 482.6 L575 481 L577.5 481 L579.1 485.1 L581 489 L584.6 490.6 L588.5 491.5 L592.4 492.4 L596 494 L598.7 497.4 L601 501 L600.8 505.5 L600 510 L603.5 512 L607.2 513.6 L611 515 L614.3 514 L617.6 513.1 L621 512.5 L624.9 510.9 L629 510"/>
<path class="bd" d="M475 517.5 L478.3 517.6 L481.6 518.4 L485 518 L487.8 520.9 L490.7 523.7 L494 526 L495.6 528.8 L495.9 532.2 L497.5 535 L499.7 537.8 L502.5 540 L499 544 L500.4 547 L502.7 549.5 L504 552.5 L504 556 L504.3 559.6 L504.9 563 L505.6 566.5 L506 570 L506.2 573.3 L505.6 576.7 L505.9 580 L506.2 583.3 L506.5 586.7 L506 590 L500 589 L499 595 L500 598.7 L500 602.5 L496.9 603.5 L494 605 L491 602.5 L490 606"/>
<path class="bd" d="M472.5 307.5 L474.4 310.6 L476.3 313.7 L477.8 317 L479.4 320.3 L480.7 323.8 L482.8 326.8 L484.5 330 L482 332.6 L479 334.5 L481.5 337.1 L484.3 339.2 L487.1 341.4 L489.5 344 L492.5 346 L493.4 349.2 L494 352.5 L496.9 350.6 L500 349 L503.8 348.5 L507.5 349 L511.3 347.4 L515 345.5 L519.5 345.9 L524 346 L527.5 350 L526.3 353.7 L526 357.5 L523.4 361.1 L520 364 L516.3 365.6 L512.5 367 L515.6 367.9 L518.8 368.9 L522 369.5 L525 371 L528.5 373 L532.5 373.9 L536 376 L537.4 380.5 L539 385 L542.5 385.3 L546 386 L548.7 388.1 L551.1 390.6 L554 392.5 L556.8 389 L560 386 L555 382.5 L558.7 381.3 L562.3 379.9 L566 379 L569.2 380.1 L572.5 381 L575.9 379.4 L579.2 377.8 L582.5 376 L586.6 375.2 L590.8 375.5 L595 375 L596.2 378.1 L598.1 380.8 L599 384 L595.4 386.6 L592.5 390 L589.8 391.7 L587.3 393.7 L585 396 L584.4 399.3 L584.3 402.7 L584 406 L587.2 408.9 L591 411 L594.2 412.3 L596.9 414.6 L600 416"/>
<path class="bd" d="M600 416 L603.5 418.5 L607.5 420 L609.6 422.6 L610.8 425.7 L612.2 428.7 L614.6 431 L616 434 L617.6 437.4 L618.9 440.9 L621 444 L620 449 L623.9 451.3 L627.5 454 L630.5 455.5 L633.1 457.7 L636 459.5 L639 461"/>
<path class="bd" d="M600 416 L603.3 415.6 L606.3 414.4 L609.2 412.9 L612.5 412.5 L616.5 411.2 L620.1 409 L624 407.5 L624.8 404.3 L625.7 401.1 L626.7 398 L626.9 394.7 L627.2 391.3 L628.3 388.2 L629 385 L631.9 382.5 L634.9 380.2 L637.5 377.5 L641.3 377.9 L645 379 L646.2 382.5 L647.5 386 L646.1 389.7 L643.3 392.7 L642.3 396.7 L640 400 L643 401.5 L646.2 402.7 L649.1 404.3 L652 405.9 L655 407.5 L660 410"/>
<path class="bd" d="M654 424 L650.8 424.3 L647.5 424.3 L644.2 424.2 L641 424 L640 428.3 L639 432.5 L637.8 436.2 L637.5 440 L641.9 441.7 L646 444 L646 450 L642.7 452.3 L639 454 L639.5 457.5 L639 461"/>
<path class="bd" d="M639 461 L640 465 L644.1 466.3 L648.3 467 L652.5 467.5 L656.8 467.1 L661 466 L662.5 460 L666.3 459.9 L670 460.4 L673.7 460.9 L677.5 461 L677 457.3 L676.8 453.6 L676 450 L677.2 445.4 L679 441 L676.3 437.8 L673.1 435.3 L670 432.5 L666.6 430.8 L663 429.2 L659.5 427.7 L656 426 L654.5 421.9 L654 417.5 L655.7 414.8 L658 412.5 L660 410 L663.9 410.8 L667.5 412.5 L671.7 412.1 L675.8 411.2 L680 411 L681 405 L683.2 401.3 L685 397.5 L687.1 394.9 L689.4 392.6 L691.2 389.8 L693.3 387.2 L695.9 385.1 L698.1 382.7 L700 380 L702.9 378.5 L706 377.5"/>
<path class="bd" d="M640 465 L639.7 468.5 L637.9 471.6 L637.5 475 L639.8 477.7 L642.5 480 L639.8 481.8 L637.5 484 L638 487.4 L639.3 490.6 L640 494 L636.2 494.2 L632.6 495 L629 496 L627.2 499.1 L626 502.5 L627 506.4 L629 510"/>
<path class="bd" d="M706 377.5 L709.4 377.4 L712.6 376.6 L715.8 375.5 L719.2 375.6 L722.5 375 L726.2 373 L730 371 L736 370 L737.7 366.4 L740.2 363.2 L742.5 360 L747.5 357.5 L751.2 358.6 L755 359 L760 356.7"/>
<path class="bd" d="M722.5 375 L721.1 378.7 L719.6 382.4 L718.5 386.2 L717.5 390 L716.1 393.5 L714 396.6 L712.5 400 L713.8 404.1 L713.8 408.4 L715 412.5 L714 415.7 L712 418.6 L711.7 422.1 L710 425 L709.9 428.3 L710.8 431.6 L710.1 435 L710.3 438.4 L710.8 441.7 L711 445 L710.5 448.5 L710.5 452 L709.9 455.5 L709.8 459 L709 462.5 L708.1 466.4 L707.4 470.3 L706 474"/>
<path class="bd" d="M629 510 L632.5 511 L636 511.7 L639.5 512.3 L643 513.2 L646.4 514.7 L650 515 L653.1 516.9 L656.5 518.5 L660.1 519.4 L663.5 520.6 L666.8 522.2 L670 524 L674 522.5"/>
<path class="bd" d="M700 551 L696.8 551.6 L693.8 553.2 L690.7 554.4 L687.5 555 L684.2 555.5 L681.3 557.3 L678.1 557.9 L675 559 L674.8 562.7 L674.7 566.4 L674 570 L677.1 572.4 L680 575 L682.3 577.7 L685 580 L687.5 582.5 L690 587.5"/>
<path class="bd" d="M690 587.5 L691.2 584.3 L691.2 580.7 L692.5 577.5 L695.6 575.4 L699.1 574.1 L702.5 572.5 L705.8 573.2 L709.2 573.4 L712.5 574 L713.5 570.7 L715 567.5 L718.7 568.5 L722.4 569.1 L726.2 569.5 L730 570 L733.2 571.1 L735.9 573.2 L738.9 574.6 L741.9 576.2 L745 577.5 L748.4 576.9 L751.7 575.9 L755 575 L757.6 576.9 L760 579 L763.9 577.3 L767.5 575 L767.9 578.8 L768.7 582.4 L770 586"/>
<path class="bd" d="M770 586 L773 584.5 L776.1 583.2 L779.2 581.9 L782.5 581 L785.7 579.7 L789 578.5 L791.8 576.2 L795 575 L799.2 574.1 L803.3 573.4 L807.5 572.5 L812.5 572.5"/>
<path class="bd" d="M770 586 L773.1 589.2 L776 592.5 L776.4 595.8 L777.1 599.1 L777.5 602.5 L774.9 605.8 L772.1 608.9 L770 612.5 L768.9 615.8 L767.8 619 L767.5 622.5 L769.3 626.2 L771 630 L772.2 633.4 L772.9 636.9 L773.7 640.4 L773.9 644.1 L775 647.5 L774.7 651.3 L773.7 655 L772.7 658.7 L772.5 662.5"/>
<path class="bd" d="M772.5 662.5 L775.9 662.4 L779.2 662.2 L782.6 662.9 L786 662.5 L786.2 665.9 L787.5 669 L785.3 671.4 L782.3 672.7 L780 675 L782.5 680 L785.8 679.5 L788.7 677.8 L791.8 676.9 L795 676 L798.4 676.7 L801.8 677.7 L805 679 L807.5 674"/>
<path class="bd" d="M807.5 674 L810.8 675 L814.2 675.3 L817.5 676 L820.2 678.5 L822.6 681.2 L825 684 L825.4 687.8 L826.1 691.5 L827.5 695 L831 700"/>
<path class="bd" d="M772.5 662.5 L768.2 661.9 L764 661 L761.1 662.6 L758.1 663.9 L755 665 L755.2 668.8 L756 672.5 L753.3 668.9 L750 666 L746.4 667.8 L742.5 669 L741.1 672.7 L739 676 L734.5 676.9 L730 677.5 L727.5 674 L723.9 671.7 L720 670 L721.6 666.4 L722.5 662.5 L725.1 660 L726.8 656.8 L729 654 L727.2 651.2 L725.9 648.2 L725 645 L721.7 644.3 L718.3 644.5 L715 644 L710 647.5 L705.9 648.7 L701.7 649.4 L697.5 650"/>
<path class="bd" d="M739 676 L739.4 680.5 L739 685 L736.6 687.2 L735 690 L733.4 693.4 L731.7 696.7 L730 700 L729.3 703.6 L728 707 L727.3 710.6 L726 714 L723 715.7 L720.3 717.9 L717.6 720.2 L715 722.5 L713.3 725.3 L711.4 728 L710 731 L707.3 734.3 L704.1 737.1 L701 740 L699 742.5"/>
<path class="bd" d="M690 587.5 L689.8 591 L690.1 594.5 L690.8 598 L690.9 601.5 L691 605 L691.9 609.1 L692.5 613.3 L692.5 617.5 L689.6 619.6 L687.7 622.7 L684.8 624.8 L682.5 627.5 L686 628.9 L689.2 630.8 L692.5 632.5 L692 636.3 L691.8 640.2 L691 644 L694.4 646.8 L697.5 650"/>
<path class="bd" d="M697.5 650 L694.3 651.7 L691 653.2 L687.5 654 L684.4 655.4 L681.1 656.2 L678.2 658 L675 659 L671.7 661.4 L668.4 663.8 L665 666 L661.7 664.7 L658.2 663.6 L655 662 L650 660 L647.9 662.9 L645.1 665.1 L642.1 667.1 L640 670 L636.6 672.4 L633.4 675 L630 677.5 L626.9 676.4 L624.1 674.7 L620.8 674 L618 672.2 L615 671 L611.3 673.2 L607.9 675.7 L604 677.5"/>
<path class="bd" d="M911 93 L914 96 L911.7 98.5 L909.6 101.1 L907.7 103.9 L905 106 L908.7 108.1 L912.5 110.1 L916 112.5 L919 110.4 L922.5 109 L925.2 111.5 L928.1 113.7 L931 116 L931.6 119.3 L931.8 122.7 L932.5 126 L933.9 129.4 L936 132.5 L939.8 132.2 L943.7 132.2 L947.5 132 L951.6 132.6 L955.8 132.1 L960 132.5 L963.5 131.1 L967 129.7 L970.4 128.2 L974 127 L976.6 129.1 L979.1 131.3 L981.8 133.3 L984.7 134.9 L987.5 136.8 L990 139 L987.7 142.5 L985.8 146.2 L984 150 L981.5 152.7 L978.7 155 L976 157.5 L976.1 161 L975.6 164.5 L975.7 168 L975.7 171.5 L975 175 L972.1 177.2 L969 179 L967.7 182.9 L965.9 186.4 L964 190 L963.4 194.5 L962.5 199 L960.6 195.1 L959 191 L955.7 192.5 L952.8 194.5 L950.1 196.8 L946.8 198.1 L944 200.4 L941.3 202.7 L938 204.2 L935 206 L932.1 209.2 L928.8 211.9 L925.5 214.5 L927.4 217.6 L930 220 L932.5 222.5 L935 225 L937.5 223 L941.8 223 L946 222 L947.5 227 L943.7 228.1 L939.9 229.2 L936 230 L935 235 L940 237"/>
<path class="bd" d="M940 237 L944.1 236 L948.3 235.4 L952.5 235 L952.7 238.4 L953.4 241.7 L954 245 L957.1 247.8 L960.7 250 L964 252.5 L967.7 252.9 L971.4 252.9 L975.1 252 L978.8 252.7 L982.5 252.5 L986.5 254.6 L990 257.5 L994.2 257.8 L998.4 258.1 L1002.5 259 L1004.5 262.7 L1007.2 266.1 L1009 270 L1015 271 L1017.4 273.7 L1018.8 277.1 L1021 280 L1024.1 278.2 L1027.2 276.3 L1030 274 L1035 275 L1035.8 278.5 L1037.2 281.9 L1038.3 285.3 L1040 288.5 L1041 292 L1043.9 290.2 L1046.8 288.5 L1049.6 286.7 L1052.5 285 L1056.2 284.3 L1060 283.7 L1063.8 283.1 L1067.5 282.5 L1069.2 286.1 L1070 290 L1073.6 290.6 L1076.9 292.3 L1080.4 293.4 L1084 294"/>
<path class="bd" d="M862.5 347.5 L866.4 349 L870 351 L872.2 354 L874 357.4 L875.3 361 L877.5 364 L877.5 366"/>
<path class="bd" d="M870 337 L866 341 L864.3 344.3 L862.5 347.5"/>
<path class="bd" d="M778 330 L780.7 326.3 L782.5 322 L786.2 321.5 L790 321 L790.8 324.3 L790.4 327.7 L791 331 L796 332 L798.8 329.7 L802.1 328.2 L805 326 L811 325 L814.4 324.9 L817.6 324 L820.8 323.5 L824 322.5 L825.7 319.2 L827.5 316 L830.7 314.5 L834.2 313.7 L837.7 313.4 L841 312 L846 315 L847.4 318.2 L849.3 321 L851 324 L851 327.7 L850.4 331.3 L850 335 L853.6 336.6 L857.5 337.5 L861.6 336.9 L865.9 337.6 L870 337"/>
<path class="bd" d="M777.9 330 L776.7 334.2 L772.5 335 L773.8 339.2 L770.8 342.5 L773.6 344.7 L775.8 347.5 L776.7 351.7 L780 354.2 L781.7 356.7 L783.8 357.9 L780.2 358.7 L776.7 360 L772.9 364.2 L776.2 365 L779.2 366.7 L782.5 369.2 L783.8 373.3 L782.4 376.5 L781.7 380 L780 382.5 L774.2 382.9 L770.8 385.8 L770.4 390 L767.1 393.8 L765.4 396.7 L767.5 400 L770 401.7 L772.5 405 L774.6 410 L776.7 414.6 L775 415 L773.5 418.4 L771.7 421.7 L769.9 425.8 L768.3 430 L766.7 435 L769.6 439.2"/>
<path class="bd" d="M760 356.7 L763.3 358.3 L768.3 355 L774.2 353.3 L775.8 347.5"/>
<path class="bd" d="M812.1 375 L808.3 372.5 L803.3 373.3 L800.8 370 L800 365 L800.8 363.3 L803.5 361.4 L806.7 360.4 L809.2 358.8 L805.4 355.8 L805.8 353.3 L808.8 352 L811.7 350.4 L814.8 349.4 L817.5 347.5 L818.3 345 L821.7 343.3 L823.3 345.8 L827.5 350 L833.3 350.8 L837.5 350.8 L832.5 353.3 L832.5 357.5 L835 360 L831.2 363.8 L831.7 368.3 L830.8 371.7 L827.9 370 L826.7 370.8 L823.8 372.9"/>
<path class="bd" d="M835 360 L838.3 361.2 L842.1 364.6 L838.3 365 L837.5 368.3 L840.8 370.8 L844.2 373.3 L844.2 376.7 L838.3 377.5 L843.3 378.3 L846.7 380"/>
<path class="bd" d="M844.2 380 L844 383.8 L843.3 387.5 L840 389.2 L840.8 391.7 L838.3 393.3 L833.3 394.2 L830.1 392.6 L826.7 391.7 L823.3 390"/>
<path class="bd" d="M838.3 393.3 L841.9 395.5 L845 398.3"/>
<path class="bd" d="M845 398.3 L842.8 400.8 L840 402.5 L837.8 405.3 L835.8 408.3 L831.9 408.7 L828.1 408.4 L824.2 408.8 L820 412.5 L815 415 L810 418.8 L808.8 422.1 L806.7 425 L803.3 430 L801.1 432.8 L798.3 435 L798.3 438.3 L800 441.2 L798.3 442.9"/>
<path class="bd" d="M706 474 L707.8 476.7 L709.3 479.7 L711 482.5 L713.4 485.7 L715.7 488.9 L717.5 492.5 L718.7 495.7 L719.3 499.1 L720 502.5"/>
<path class="bd" d="M706 474 L709 472.7 L712.3 472.4 L715.4 471 L718.7 470.7 L721.8 469.6 L725 469 L728.6 467.3 L732.3 466 L736.3 465.3 L740 464 L743.4 463.6 L746.6 462.4 L750 462.1 L755 460.8 L758.3 458.3 L762.1 456.5 L765.8 454.6 L767.9 449.2 L767.4 445.9 L767.9 442.5 L769.6 439.2"/>
<path class="bd" d="M769.6 439.2 L773.6 440 L777.5 440.8 L780.7 442.4 L784.2 443.3 L787.5 443.2 L790.8 443.8 L793.3 442.5 L798.3 442.9"/>
<path class="bd" d="M798.3 442.9 L800 446.7 L799.6 449.6 L803.3 447.5 L807.2 446 L811.2 444.6 L808.3 447.1 L804.2 450 L800 451.7 L797.9 456.7 L792.5 459.2 L790.3 462.1 L788.8 465.4 L792.5 467.1 L795.8 466.7 L799.2 470.8 L801.2 475.4 L805.6 474.9 L810 475 L813.3 475.8 L816.7 473.3 L817.5 468.3"/>
<path class="bd" d="M813.3 475.8 L814.2 479.2 L819.2 481.7 L820 483.3 L819.2 485.8 L821.7 488.3 L816.7 490.4 L812.5 493.3 L810 489.2 L805.8 485.4 L803.3 485.8 L801.2 490.4 L802.9 493.3 L801.7 495.8 L798.3 497.5 L797.9 502.5 L795 505 L790.8 505 L790.4 508.3 L794.2 510 L795.4 516.2 L800 517.1 L803.3 519.2 L807.5 516.7 L808.3 519.2 L809.6 525 L807.5 529.2 L805.2 531.5 L803.3 534.2 L800 537.5 L802.8 539.7 L805.2 542.3 L807.3 545.2 L810 547.5 L807.2 551 L805 555 L807.2 558.2 L809.1 561.6 L811 565 L811.9 568.7 L812.5 572.5"/>
<path class="bd" d="M816.7 473.3 L819.2 476.7 L825 478.3 L828.3 483.3 L833.3 485.4 L839.2 486.7 L841.7 492.5 L841.7 491.7 L845.1 492 L848.3 492.9 L849.2 495 L846.7 498.3 L844.6 502.5 L849.2 504.2 L850.8 509.2 L853.3 512.5 L858.3 512.5 L860 509.2 L864.2 508.3 L865.8 511.7 L868.3 512.1 L867.5 516.7 L864.2 518.8 L863.3 516.7 L860 516.4 L856.7 515.8 L857.9 521.7 L854.6 524.2 L852.5 527.9 L855 532.5 L857.7 534.5 L860.8 535.8 L861.2 540 L858.8 542.1 L860.8 543.3 L864.2 543 L867.5 542.5 L870 542.9 L873.3 545 L876.7 544.2"/>
<path class="bd" d="M835 474.6 L836.7 477.1 L840.8 475.8 L842.5 473.8 L847.5 473.3 L850 476.7 L852.8 474.1 L855 471 L858.8 468.6 L862.5 466 L865.7 466.9 L869 467.5"/>
<path class="bd" d="M876.7 544.2 L880 545 L885.4 547.9 L889.2 550 L891.2 551.7 L894.2 549.6 L897.9 548.3"/>
<path class="bd" d="M897.9 548.3 L897.5 545.8 L899.6 545 L902.1 542.9 L901.7 540.8 L905.8 539.2"/>
<path class="bd" d="M905.8 536.7 L910.8 539.2"/>
<path class="bd" d="M897.9 548.3 L900.8 550.8 L903.3 553.3 L905.8 555"/>
<path class="bd" d="M901.7 532.9 L905 530.4 L909.2 533.3 L912.9 534.2 L916.7 535 L917.1 537.5 L914.2 538.3 L909.2 536.7 L905 535 L901.7 532.9"/>
<path class="bd" d="M876.7 544.2 L875 549.2 L871.7 553.3 L868.8 556.7 L869.6 560 L869.2 561.2 L865.9 562.2 L862.5 562.5 L862.1 566.7 L861.7 571.7 L858.3 575 L854.6 580"/>
<path class="bd" d="M720 502.5 L722.5 505 L725.1 507.4 L727.7 509.8 L730 512.5 L733.1 513.8 L735.8 515.9 L738.8 517.5 L741.8 519 L745 520 L750 520 L754.2 519.8 L758.3 519.6 L762.5 522.5 L766.7 519.2 L770 520 L770 523.4 L769.6 526.7 L772.5 531.7 L775.9 532 L779.2 532.5 L784.2 532.9 L784.6 535 L785 536 L788.5 536.2 L791.9 537.3 L795.5 537.5 L799 537.5 L803.3 534"/>
<path class="bd" d="M720 502.5 L716.8 502.2 L713.5 502.5 L710.2 502.5 L707 502.2 L703.8 502.1 L700.5 502.3 L697.2 502 L694 502.5 L695.9 505.1 L697.7 507.7 L700 510 L703 511.4 L706 512.5 L702.3 513.6 L698.6 514.5 L695 516 L695.1 519.5 L694.6 523 L695.3 526.5 L695 530 L697.1 532.9 L699.8 535.2 L702.7 537.3 L705 540 L705.3 543.8 L706 547.5 L703.1 549.5 L700 551"/>
<path class="bd" d="M812.5 572.5 L815.7 571.2 L819.1 570.4 L822.5 570 L823.8 573 L825 576 L829 574.7 L832.5 572.5 L836.4 574.8 L840 577.5 L845.8 577.5 L849.2 580.8 L852.9 580.8"/>
<path class="bd" d="M849.2 580.8 L846.7 584.2 L847.1 588.3 L850.8 590.8 L853.3 595 L853.7 598.4 L854.2 601.7 L853.3 604.2 L856.7 604.5 L860 605 L858.3 607.5 L860.8 612.5 L862 616.2 L862.5 620 L867.5 620.8 L871.7 619.2 L872.5 616.7 L875.8 616.7 L877.5 621.7 L880 624.2 L885.8 621.7 L889.2 623.3 L890 626.7"/>
<path class="bd" d="M853.3 604.2 L850.7 606.1 L848.3 608.3 L843.3 611.7 L840 613.3 L836.3 614.4 L832.5 615 L831.8 618.5 L829.8 621.5 L829 625 L826.1 627.3 L824 630.4 L821 632.5 L820.4 636 L819.8 639.5 L818.7 643 L818.4 646.5 L817.5 650 L815.7 653 L814.7 656.5 L812.2 659.2 L811 662.5 L809.7 666.3 L808.8 670.2 L807.5 674"/>
<path class="bd" d="M914.2 241.2 L911.2 246.7 L913.3 248.3 L916.7 247.5 L918 251 L920 254.2 L922.1 255.8 L920 259.9 L918.3 264.2 L920.2 267.9 L921.7 271.7 L923.8 275 L923.3 278.3"/>
<path class="bd" d="M896.7 317.9 L891.7 320.4 L887.5 324.2 L886.2 327.5 L884.2 330.4 L881.7 327.5 L880.6 323.7 L879.2 320 L875.8 317.8 L872.5 315.4 L868.3 318.3 L868.8 321.7 L870 325 L869.2 330 L871.2 333.3 L868.3 338.3 L863.3 337.5 L863.4 340.9 L862.4 344.1 L862.5 347.5"/>
<path class="bd" d="M674 522.5 L677 524.8 L680.6 526.2 L683.7 528.3 L686.7 530.6 L690 532.5 L693.9 534 L697.5 536"/>
<path class="bd" d="M674 522.5 L671 527.5 L673.5 531.2 L676 535 L672.5 538 L669 541 L666.4 543.3 L663.9 545.7 L661 547.5 L659.6 551.3 L657.7 555 L655.8 558 L654.5 561.4 L652.1 564 L650.3 566.9 L646.7 568.8 L643.5 568.8 L641.2 563.3 L636.6 564.2 L633.4 563.2 L630.6 561.2 L627.4 560 L625 562.3 L623.3 565.1 L624.7 569.7 L622.5 572.1 L620.1 574.2 L618.3 577 L621 582.5 L625.1 584.3 L627.4 589.8 L632.9 591.7 L636.6 595.3 L637 599.9 L639.3 595.3 L643 599.9 L644.9 596.7 L646.7 593.5 L651.3 591.7 L653.5 588.9 L655.8 586.2 L658.6 584.3 L661.9 586.5 L665 588.9 L670 587.5 L671.2 590.9 L672.5 594.2 L674 597.5 L677 600.4 L680.9 602.2 L684 605 L685.8 601.6 L688.4 598.6 L690 595 L690.2 591.2 L690 587.5"/>
<path class="bd" d="M617.8 614.6 L623.8 616 L627.1 615 L630.5 614.5 L633.8 613.7 L636.6 611.8 L635.7 607.3 L632 605.9 L627.4 604.5 L624.7 600.8 L624.2 598.1 L626.9 595.8 L630.2 594.4 L633.5 594.5 L636.6 595.3"/>
<path class="bd" d="M587.1 628.3 L589.8 631.1 L590.6 634.3 L590.3 637.5 L593.5 640.3 L598.1 636.6 L602.7 636.6 L606.3 640.3 L605.9 645.8 L602.7 650.3 L600.8 655.8 L603.6 661.3 L607.3 665 L610 667 L607.7 670.3 L606.3 674.2 L604 677.5"/>
<path class="bd" d="M604 677.5 L606 682.5 L609.2 682.4 L612.5 682.5 L615 687.5 L619.5 688.1 L624 689 L628.2 689.7 L632.5 690 L633.7 693.7 L634 697.5 L631.3 699.6 L628.2 701.1 L625 702.5 L622 703.7 L619 705"/>
<path class="bd" d="M577 636.6 L576.5 641.2 L574.1 643.8 L571.5 646.2 L566.9 644.4 L563.7 647.6 L560.5 649.4 L555 648.5"/>
<path class="bd" d="M940 237 L936.4 238.9 L932.5 240 L932.5 245 L928.2 244 L924 242.5 L920.6 242.3 L917.4 241.4 L914 241.2"/>
<path class="bd" d="M506 585 L506.6 588.4 L508.2 591.5 L508.1 595.1 L509.8 598.2 L510.3 601.6 L511 605 L512.6 601.8 L513.8 598.5 L515.5 595.4 L517.5 592.5 L519.8 595.2 L522.4 597.6 L525 600 L525.5 603.4 L526.2 606.8 L527.5 610 L531.1 611.7 L535 612.5 L537.1 615.3 L538.6 618.5 L540.5 621.4 L542.8 624.1 L544.1 627.3 L545.9 630.4 L548 633.1 L550 636 L551 640.1 L552.5 644 L555 648.5"/>
<path class="bd" d="M948.3 295 L952.6 296.4 L956.7 298.3 L958 301.8 L960 305 L963.7 302.7 L967.5 300.8 L969.1 303.8 L970.2 307 L971.7 310 L973.2 313 L975 315.8 L976.3 319 L978.3 321.7 L978.9 325.6 L979.9 329.4 L980.8 333.3 L982.5 336.9 L985 340 L984.7 343.4 L984.2 346.7"/>
<path class="bd" d="M948.3 295.8 L950.8 293.3 L952.5 295.8 L956.3 297.8 L960 300"/>
</g>
<path class="land" style="fill:none" d="M290 177 L293.8 177 L297.5 176.7 L301.2 177.7 L305 177.5 L305.6 180.8 L305.8 184.2 L306 187.5 L309.1 189.4 L311.7 191.8 L314.8 193.6 L317.5 196 L320.5 197.3 L323.2 199.3 L326 201 L329.8 201.1 L333.7 200.6 L337.5 201 L340.6 202.7 L343.8 204.1 L346.6 206.3 L350 207.5 L351.8 210.7 L352.2 214.4 L354 217.5 L356.2 219.9 L358.2 222.5 L360.7 224.7 L362.5 227.5 L361.6 230.8 L361.6 234.3 L360.8 237.7 L360 241 L358.2 245.3 L355.5 249 L356.7 253.2 L357.5 257.5 L360.9 258.7 L364.4 259.4 L367.9 259.9 L371.6 259.8 L375 261 L378.5 261.5 L382 261.4 L385.5 261.3 L389 260.6 L392.5 261 L396.3 261.3 L400 262.4 L403.7 263.7 L407.5 264 L410.3 265.6 L413.1 267.4 L416.2 268.5 L418.9 270.3 L421.7 272.1 L424.5 273.7 L427.5 275 L431.3 276.2 L435.2 276.4 L439 277.5 L440 282.5 L441.3 285.6 L443.6 288.2 L444.7 291.4 L446.6 294.2 L448.6 296.9 L450 300 L452.4 302.6 L455 305 L457.5 307.5 L461.2 308 L465 307 L468.8 307.1 L472.5 307.5 L475.9 308.5 L479.4 308.9 L483.1 308.6 L486.5 309.2 L490 310 L493.2 310.3 L496.5 310.2 L499.7 310.7 L502.9 310.6 L506.1 311.7 L509.3 311.3 L512.5 312 L516.1 311.9 L519.6 311.3 L523.1 310.5 L526.6 309.9 L530 309 L533.4 309.4 L536.6 310.2 L540 310.8 L543.3 311 L546.7 311 L550 312 L553.3 314.4 L556.8 316.5 L560 319 L564.2 319.6 L568.3 319.9 L572.5 320.5 L576.1 322.3 L580.1 322.9 L583.6 324.9 L587.5 326 L590.8 326.4 L594.1 326.5 L597.4 326.1 L600.7 326.4 L604 327 L605 330 L611 332 L614.5 330.7 L617.4 328.2 L620.6 326.4 L624 325 L627.3 323.5 L630.8 322.5 L634.1 321.3 L637.5 320 L640.8 318.5 L644.3 317.5 L648 317 L651.4 315.7 L655 315 L658.2 315 L661.4 315.2 L664.6 314.3 L667.9 314.7 L671.1 314.5 L674.3 314.9 L677.5 314.5 L681 314.9 L684.5 314.2 L688 313.9 L691.5 314.5 L695 314 L698.3 312 L701.9 310.8 L705.5 309.4 L709 308 L711.5 305.1 L714.6 302.9 L717.3 300.1 L720 297.5 L723.2 295.6 L726.6 294.1 L730 292.5 L733.9 290.2 L737.5 287.5 L734.8 283.9 L732.5 280 L729.6 277.3 L727.5 274 L729.5 271.3 L731.2 268.4 L733.6 266 L735.2 263 L737.5 260.5 L740.8 261.2 L743.6 263.2 L746.9 263.7 L750 265 L753.8 265.3 L757.5 266 L761.2 266.7 L765 267 L768.2 265.7 L771.4 264.3 L774.3 262.3 L777.5 261 L780.8 258.6 L784.1 256.2 L787.5 254 L791.3 253.3 L795 252.6 L798.8 251.9 L802.5 251 L806.1 248.9 L810.1 247.5 L814 246 L816 242.6 L817.5 239 L820.2 237.2 L823.4 236.6 L826.3 235.2 L829.1 233.6 L832.1 232.3 L835 231 L838.2 230.3 L841.5 230.4 L844.6 229.7 L847.8 229 L851 228.3 L854.3 228.3 L857.5 228 L861.6 229.1 L865.8 229.5 L870 230 L873.4 228.8 L876.8 227.8 L880 226 L879 220 L875.6 217.4 L873.1 213.9 L870 211 L866.8 209.3 L863.9 207.1 L860.8 205.3 L857.9 203.1 L855 201 L850.8 200.6 L846.7 200.8 L842.5 201 L839.8 202.9 L837.8 205.7 L835 207.5 L831.2 206.5 L827.6 204.7 L823.6 204.2 L820 202.5 L817.1 204 L814.2 205.3 L811 206 L808.2 203.7 L804.8 202.2 L802 200 L803.9 196.2 L806 192.5 L807 189.4 L808.6 186.6 L810.5 184 L812.3 181.2 L813.3 178.2 L814.8 175.3 L816.1 172.3 L817.6 169.5 L819.2 166.7 L821 164 L824.7 164.6 L828.1 165.9 L831.8 166.6 L835.2 168.2 L839 168.4 L842.5 169.5 L846.1 167.5 L848.9 164.5 L852.5 162.5 L856 161.5 L859.5 160.6 L863 159.7 L866.5 158.4 L870 157.5 L868.8 154.2 L867.5 151 L869.4 148.3 L870.5 145.1 L872.5 142.5 L874.5 139.5 L876.6 136.6 L878.8 133.7 L880.2 130.3 L882.5 127.5 L884.9 125.3 L887.2 122.9 L890.1 121.3 L892.5 119 L894.1 115.1 L895 111 L890 107.5 L886.2 106.9 L882.5 106 L884 102.5 L887.6 100.7 L890.8 98.4 L893.8 95.7 L897.5 94 L900.9 93.7 L904.2 93 L907.6 93 L911 93 L914.6 92.4 L917.9 90.9 L921.5 90.4 L925 89.5 L928.2 88.7 L931.4 88.5 L934.7 89.1 L937.8 87.9 L941 87.7 L944.3 88.3 L947.5 87.5 L950.7 88.6 L953.9 89.7 L957 90.8 L960 92.5 L963.3 93.3 L966.8 93.7 L970 95 L974.2 95 L978.4 95.4 L982.5 96 L984.8 98.9 L987.8 101.1 L990 104 L991.8 107.1 L994 109.8 L995.2 113.3 L997.5 116 L998.9 119.8 L1000.8 123.2 L1002.7 126.7 L1005 130 L1006.2 133.1 L1007.1 136.4 L1008.6 139.4 L1010 142.5 L1012.2 145.4 L1013.5 148.9 L1015.3 152.1 L1017.5 155 L1018.8 159.4 L1019 164 L1022.2 166.2 L1025 169 L1028.8 169.3 L1032.5 169.3 L1036.2 169.1 L1040 169 L1043.2 169.5 L1046.3 170.5 L1049.5 171.3 L1052.5 172.5 L1055.1 174.7 L1058.4 175.8 L1061.1 177.7 L1063.8 179.8 L1066.7 181.6 L1069.6 183.3 L1072.5 185 L1072.8 189.2 L1073.1 193.4 L1074 197.5 L1075.6 200.6 L1078.4 202.9 L1080 206 L1083.5 205.6 L1086.9 206.7 L1090.3 206.8 L1093.8 206.4 L1097.2 206.5 L1100.6 207 L1104.1 206.8 L1107.5 207 L1110 202.5 L1113.2 200.8 L1116.6 199.7 L1119.9 198.5 L1123.4 197.6 L1126.5 195.9 L1130 195 L1133.2 194.9 L1136.5 194.8 L1139.6 193.8 L1142.9 193.6 L1146.1 193.4 L1149.3 193.2 L1152.5 192.5 L1149.6 194.9 L1146.8 197.5 L1144 200 L1145.5 203.1 L1147.5 206 L1145.3 208.4 L1142.2 209.6 L1139.7 211.7 L1137.5 214 L1136.5 217.5 L1136.2 221.1 L1134.9 224.5 L1134.7 228.1 L1133.4 231.5 L1132.5 235 L1130.3 238.5 L1127.4 241.6 L1125 245 L1122.7 247.2 L1120 249 L1119.2 252.2 L1117.2 254.9 L1116.5 258.1 L1115 261 L1111.7 260.1 L1108.2 259.8 L1105 258.4 L1101.7 257.4 L1098.4 256.5 L1095 256 L1091.9 258.2 L1088.8 260.3 L1085.3 261.9 L1082.3 264.2 L1079 266 L1080.5 269.4 L1081.8 272.9 L1082.9 276.5 L1084 280 L1084.1 283.8 L1084.6 287.5 L1084.6 291.3 L1085 295 L1083.4 298.2 L1082 301.5 L1081 305 L1078 306.2 L1074.8 307 L1072 308.7 L1069 310 L1072.5 315 L1070.4 312.5 L1068.4 309.9 L1066.5 307.2 L1064 305 L1059 305 L1057.5 307.9 L1055.9 310.8 L1055 314 L1052 315.8 L1048.8 317.1 L1045.5 318.3 L1042.5 320 L1038.7 320.8 L1034.9 321.6 L1031.3 323.2 L1027.5 324 L1029.4 328.2 L1031 332.5 L1028 334.3 L1025 336 L1021.3 334.9 L1017.5 334.1 L1014 332.5 L1010 330.9 L1006 329 L1002.9 330.2 L1000 331.7 L997.5 337.5 L994.4 339.8 L991.7 342.5 L988.1 344.9 L984.2 346.7 L981.4 348.5 L978.6 350.2 L976.2 352.6 L973.3 354.2 L970.3 357.1 L966.9 359.5 L963.3 361.7 L959.9 364.7 L956.7 368 L953.3 367.9 L950 368.9 L946.7 369.2 L943.4 370.4 L940 371.1 L936.7 372.5 L933.3 373.3 L930.2 375.7 L926.8 377.5 L923.3 379.2 L919.9 380.2 L916.6 381.4 L913.3 382.5 L911.7 385.8 L908.3 385 L902.5 386.3 L901.7 390 L901 386 L905.5 384.8 L910 384 L910 379 L906.9 377.6 L904 376 L905.4 371.6 L907.5 367.5 L910.4 365.2 L912.8 362.4 L915.7 360.2 L918.4 357.6 L921 355 L918.9 351 L916 347.5 L912.6 347 L909.2 347.7 L905.9 347.2 L902.5 347 L900.1 350.4 L896.6 352.8 L894 356 L891.4 357.9 L888.2 358.9 L885.9 361.3 L883 362.7 L880.3 364.3 L877.5 366 L874.7 368.4 L872.4 371.3 L870 374 L867.5 379 L863.5 380.3 L859.9 382.5 L856 384 L851.7 383.7 L847.5 382.5 L845.6 386 L843.6 389.4 L841 392.5 L843.3 396.4 L846 400 L850 402.5 L855 403.3 L856.7 402.1 L862.5 402.3 L864.6 405.8 L867.1 408.3 L869.6 408.8 L868.8 410.8 L865 412.5 L862.9 414.6 L862.9 417.5 L865 420.8 L869.2 421.7 L870.4 423.3 L875 423.3 L877.9 422.5 L878.8 419.2 L881.7 417.1 L885.8 414.2 L885.8 411.7 L889.2 410.8 L895 408.8 L894.2 405.8 L895.4 406.7 L896.2 408.8 L900 411.2 L903.3 414.2 L905.8 414.2 L907.5 412.5 L910 416.2 L913.4 416.2 L916.7 415.8 L920 414.2 L921.7 416.7 L925.8 417.5 L930.4 417.9 L928.8 420 L928.8 422.5 L926.7 424.2 L927.1 426.7 L923.3 429.2 L920.8 428.8 L918.3 427.1 L915 427.5 L910 430 L907.5 431.7 L903.3 433.3 L898.3 434.2 L899.2 436.7 L895 437.5 L894.2 440.8 L893.3 444.2 L888.3 445 L886.7 443.3 L884.2 443.8 L885.8 445.8 L885 447.9 L882.5 449.2 L880.4 452.5 L875.8 454.2 L875 457.5 L872.1 460 L871.2 464.2 L869.2 465.8 L867.9 470 L872.5 472.5 L877.5 475.8 L880.7 477.9 L884.2 479.6 L886.7 480 L889.2 485.8 L891 490.1 L893.3 494.2 L895.8 497.7 L897.5 501.7 L899 505.3 L899.6 509.2 L899.2 514.2 L902.5 517.1 L906.7 518.3 L909.2 523.3 L913.3 526.7 L916.7 530.8 L917.9 535 L917.5 537.5 L915 538.3 L910.8 539.2 L915.8 541.7 L920 542.1 L915 544.2 L917.9 548.3 L917.5 552.5 L914.1 552.3 L910.8 552.5 L905.8 555 L900.8 557.5 L904.2 560 L907.1 562.1 L909.2 565 L913.3 569.2 L916.7 570 L916.7 575.8 L914.2 576.7 L917.5 579.2 L916.7 585 L919.2 585.4 L916.7 587.5 L912.5 587.5 L913.3 590 L912.5 595 L909.2 597.5 L911.7 599.2 L911.7 604.2 L907.5 605 L904.2 609.2 L900 610.8 L898.3 612.5 L895 616.7 L893.3 621.7 L891.7 623.3 L890 626.7 L887.5 630 L885 632.5 L883.3 635 L884.2 640 L880 642.7 L876 646.7 L875.8 650.7 L875.3 654.7 L878.7 658.7 L874.7 662.7 L869.3 662.7 L866.6 665.3 L864 668 L861.3 673.3 L858.5 675.9 L856 678.7 L853.3 682.7 L847.3 681.3 L846.7 685.3 L844.4 687.9 L841.9 690.3 L840 693.3 L837.6 696 L836 699.3 L831.3 700.7 L826 702 L824 706.7 L821.5 709.5 L818.7 712 L813.3 713.3 L808 716 L804.7 716.8 L801.3 717.3 L802.5 716 L799.5 717.3 L796.3 717.9 L793.1 718.3 L790 719 L786.6 720.9 L783.5 723.2 L780 725 L776.5 724.1 L773.4 722.1 L770 721 L768.6 724.9 L767.5 729 L764.2 731 L761 733.3 L757.5 735 L753.9 737.8 L750 740 L746.6 739.4 L743.4 738 L740 737.5 L736.1 738.3 L732.7 740.5 L728.6 740.8 L725 742.5 L721.6 742.9 L718.3 743.9 L715 745 L712.7 747.7 L709.6 749.6 L707.5 752.5 L709 757.5 L711.2 761 L714 764 L711.8 766.8 L709 769 L704.3 768 L700 766 L698.5 762.4 L697.4 758.6 L696 755 L696.2 751.8 L698 748.9 L698.4 745.7 L699 742.5 L695.2 743 L691.3 743.5 L687.5 744 L684 742.9 L680.9 740.8 L677.5 739.5 L673.7 740 L670 741 L666.1 740.6 L662.6 738.9 L658.7 738.5 L655 737.5 L651.6 734.9 L647.6 733.3 L644 731 L642.2 726.9 L641 722.5 L643.2 719 L646 716 L641.7 714.4 L637.5 712.5 L634 712.3 L630.7 711.6 L627.4 710.7 L624 710 L621.5 707.5 L619 705 L616 706.9 L613.2 709.3 L610 711 L607.8 713.6 L605.3 715.6 L602.5 717.5 L597.5 716 L594 721 L590.8 720.1 L587.5 720 L584 716 L581 719.5 L577.5 722.5 L573.7 720.6 L569.9 719.1 L566 717.5 L564 722.5 L560.7 722.9 L557.3 723 L554 724 L552.7 727.1 L551 730 L552.5 733.1 L554.3 736 L556 739 L555.6 743.5 L555 748 L551.7 747.9 L548.3 748 L545 747.5 L543.7 744.3 L543.8 740.7 L542.5 737.5 L538.2 739.1 L534 741 L530.1 742.1 L526 742.5 L524.3 739 L521.7 736 L520 732.5 L515.9 731.5 L511.7 730.7 L507.5 730 L509 727.1 L509.7 724 L511 721 L512.5 717.8 L513.2 714.4 L514 711 L510.2 709.9 L506.2 709.1 L502.5 707.5 L501.4 704.4 L500.4 701.4 L499.9 698.1 L499 695 L500 689.5 L496.6 689.3 L493.3 689.6 L490 690 L486.3 691.2 L482.7 692.7 L479 694 L479.8 689.4 L481 685 L480.3 681.2 L479 677.5 L480.9 673.8 L482.5 670 L484.8 666.8 L486.9 663.4 L489 660 L492.7 658.3 L496 656 L497.4 652.4 L498.4 648.6 L500 645 L499.9 641.8 L499.8 638.5 L499.8 635.2 L500.4 632 L500.2 628.8 L500.1 625.5 L499.9 622.2 L500 619 L497 617.3 L493.8 616 L491 614 L490.5 610 L490 606 L486 604 L483.1 601.4 L480 599 L477.6 602.1 L475 605 L475 611 L471 615 L468 613.2 L465.3 611 L462.2 609.4 L459 608 L455 606.8 L451.5 604.2 L447.5 603 L444.5 605.1 L441.6 607.4 L439 610 L436 611.3 L433.4 613.4 L430.6 615 L427.4 616.1 L424.5 617.5 L422 619.8 L419.1 621.4 L416 622.5 L413.6 625 L411.6 627.9 L410 631 L406.3 631.5 L402.5 631.1 L398.8 632 L395 632 L391.5 631.7 L388 632.8 L384.5 632.3 L381 632.5 L380.2 629.2 L380.1 625.8 L379.5 622.5 L375.8 621.2 L372.5 619 L372.5 615 L369.4 611.4 L366 608 L361 610 L356.7 609.9 L352.5 609 L349.2 607.1 L346 605 L341.8 606 L337.5 606 L335.1 608.3 L332.8 610.8 L330.1 612.9 L327.5 615 L327.8 618.7 L328 622.5 L325 625 L321 621 L321.7 617.7 L322.1 614.4 L322.5 611 L319 608 L315.5 609 L311.9 609.6 L308.5 611.1 L305 612 L300.9 612.7 L296.7 612.5 L292.5 613 L289.1 611.3 L286.1 608.9 L282.5 607.5 L277.5 610.5 L275 607 L271 610.5 L268.4 606.6 L266 602.5 L261.8 603 L257.5 602.5 L256.6 599.3 L256 596 L250 597 L246.9 594.9 L243.3 593.7 L240 592 L240.1 588.5 L239.5 585 L235 582 L232.1 583.9 L229 585.5 L226.9 582.8 L224.3 580.5 L222.5 577.5 L219.3 576 L216.1 574.4 L213.2 572.3 L210.1 570.7 L207.1 568.7 L204 567 L202.6 563.9 L201 561 L197 561.1 L193 560.9 L189 560.5 L187.5 564.5 L185 568 L182.7 565.5 L181 562.5 L177.9 561.3 L175.2 559.5 L171.9 558.9 L169 557.4 L166 556 L162.6 553.4 L160 550 L156.3 548.4 L152.5 547 L149.3 547.3 L146 547.5 L143.3 543.9 L141 540 L140.9 535.5 L141 531 L138.3 528.2 L136 525 L135.4 521.3 L135 517.5 L137.8 515.5 L141 514 L141 518 L146 520.5 L148.7 517.4 L151 514 L150.8 510.6 L150.1 507.2 L149 504 L146.2 501.4 L143.3 499 L141 496 L140.8 491.5 L140 487 L142.5 485 L145 483 L146 479 L143 477.8 L140.1 476.6 L137.1 475.3 L134 474.5 L132 470.2 L130 466 L129.6 462.7 L128.9 459.4 L129 456 L125.8 456.5 L122.5 456.4 L119.2 456.4 L116 456 L112.5 454.4 L108.7 453.6 L105 452.5 L102.6 450.3 L101 447.5 L95 449 L91 445 L90.5 441.4 L90.2 437.7 L90 434 L87.7 431.7 L84.9 430.1 L82.5 428 L80 426 L76.2 425.8 L72.5 425.2 L68.7 425 L65 424 L65 421 L68.4 421 L71.7 420.3 L75 420 L76 415 L74.6 411.6 L72.7 408.3 L71 405 L70.5 400.5 L71 396 L68 394.6 L65.2 392.8 L62.5 391 L57.5 394 L52.5 392.5 L52.8 388.8 L52.5 385 L49.9 381.3 L47.5 377.5 L50.1 375.3 L52.1 372.7 L54 370 L54.7 366.5 L55 363 L58.8 362.5 L62.5 362 L65.1 360.2 L67.4 357.9 L70 356 L73.5 354.3 L77.4 353.9 L80.9 352.2 L84.5 351 L85.5 354.7 L87.5 358 L90.9 357.8 L94.3 357.1 L97.6 356.4 L101 356 L103.2 351.8 L105 347.5 L107.3 344.8 L110 342.5 L113.5 342.7 L117 343.1 L120.5 344 L124 344 L126.4 341.6 L127.6 338.4 L130 336 L132.8 334.3 L135.9 333.4 L139.1 332.6 L142 331.1 L145 330 L148.8 329 L152.7 328 L156.3 326.4 L160 325 L163.1 323.5 L165.8 321.3 L169 320 L168.4 316.3 L167.8 312.6 L167 309 L170.3 306.7 L174 305 L171 301 L176 300 L177.5 295 L175.7 292.2 L175.1 288.9 L174.1 285.8 L172.4 282.9 L171 280 L170.3 276.7 L170.7 273.3 L170 270 L166.9 268.3 L163.9 266.5 L161 264.5 L165 261 L168.8 260.8 L172.5 260.3 L176.3 260 L180 259 L183.9 258.3 L187.3 256.2 L191.2 255.3 L195 254.5 L198.3 255.8 L201.8 256.6 L205 258 L210 256 L205 252.5 L205.4 248.8 L205 245 L206.6 242 L208 238.9 L209.6 235.8 L210.7 232.6 L212.3 229.6 L213.2 226.2 L214.3 223 L216 220 L220 217 L223.7 218.4 L227.3 220.2 L231.2 221.2 L235 222.5 L239.2 222.1 L243.3 221.7 L247.5 222 L252.5 224 L255.7 222.3 L259 220.9 L262.5 220 L266 215 L265.7 211.2 L264.8 207.5 L264.4 203.8 L264 200 L265.5 196.6 L266 193 L269.8 192.2 L273.7 191.8 L277.5 191 L281.2 189.1 L285 187.5 L284.9 184.2 L285 181 L287.4 178.9Z"/>
<g id="borders2">
</g>
<g id="sea">
<path class="dash" style="stroke-width:1.8" d="M932.5 679 L927 702.5"/>
<path class="dash" style="stroke-width:1.2" d="M916 738 L902.5 756"/>
<path class="dash" style="stroke-width:1" d="M882.5 792.5 L872.5 814"/>
<path class="dash" style="stroke-width:0.9" d="M688.8 850 L696.2 860 L699.5 872.5"/>
<path class="dash" style="stroke-width:1.8" d="M865 852.5 L865 875.5"/>
<path class="dash" style="stroke-width:1.3" d="M707.5 931.2 L707 942.5 L703 952.5"/>
<path class="dash" style="stroke-width:0.8" d="M863.2 936.2 L860 950 L855.5 959.5"/>
<path class="dash" style="stroke-width:0.8" d="M814.5 1018 L801.2 1035.5"/>
<path class="dash" style="stroke-width:1.3" d="M670.5 1037.5 L669.5 1047.5 L671.8 1059.5"/>
<path class="dash" style="stroke-width:0.9" d="M734.5 1111.2 L753.8 1105"/>
<path class="dash" style="stroke-width:0.9" d="M748 1058.8 L747.5 1066.2 L750 1072.5"/>
<path class="dash" style="stroke-width:1.3" d="M692.5 1032 L695.5 1028.8 L700 1027.5"/>
<path d="M808 751h3v3h-3zM824 758h3v3h-3zM755 782h2v2h-2zM770 788h2v2h-2zM872 698h3v3h-3zM872 706h1v1h-1zM908 718h2v2h-2zM909 730h2v2h-2zM943 654h2v2h-2zM948 650h1v2h-1zM920 660h1v1h-1zM840 870h3v3h-3zM728 832h2v1h-2zM742 835h1v1h-1zM730 844h2v1h-2zM738 846h1v2h-1zM748 844h1v1h-1zM732 850h1v1h-1zM747 850h1v1h-1zM734 853h1v1h-1zM747 853h2v1h-2zM742 860h1v1h-1zM775 854h2v1h-2zM782 852h1v1h-1zM788 851h2v1h-2zM789 854h2v1h-2zM783 862h2v1h-2zM771 864h1v2h-1zM822 848h2v1h-2zM799 896h1v1h-1zM786 947h1v1h-1zM823 947h2v1h-2zM776 958h1v1h-1zM783 960h1v1h-1zM787 955h2v1h-2zM791 956h1v2h-1zM832 955h1v2h-1zM839 956h2v1h-2zM842 961h1v1h-1zM833 962h2v1h-2zM766 972h2v1h-2zM778 971h2v1h-2zM786 970h1v1h-1zM771 975h1v2h-1zM785 978h2v1h-2zM797 972h1v2h-1zM806 966h1v2h-1zM820 970h1v1h-1zM824 967h2v1h-2zM833 971h2v1h-2zM801 978h1v1h-1zM811 974h1v2h-1zM807 982h1v1h-1zM812 985h1v1h-1zM818 981h1v2h-1zM786 982h1v1h-1zM799 990h2v1h-2zM810 991h1v2h-1zM777 990h1v1h-1zM768 993h2v1h-2zM773 1000h1v1h-1zM776 1002h2v1h-2zM785 1000h1v1h-1zM818 994h2v1h-2zM822 996h1v1h-1zM814 1000h1v1h-1zM748 986h1v1h-1zM742 1000h1v2h-1zM748 999h1v2h-1zM753 999h2v1h-2zM728 1006h1v1h-1zM732 1004h2v1h-2zM796 1008h1v2h-1zM802 1006h1v2h-1zM796 1011h1v1h-1zM755 1009h1v1h-1zM762 1013h1v2h-1zM712 1014h2v1h-2zM702 1020h1v1h-1zM712 1021h2v1h-2zM735 1017h2v1h-2zM731 1022h1v2h-1zM729 1027h2v1h-2zM754 1021h2v1h-2zM786 1014h1v1h-1zM789 1020h2v1h-2zM787 1025h1v2h-1zM791 1028h1v1h-1zM788 1033h1v1h-1zM770 1030h1v2h-1zM766 1040h1v1h-1zM760 1052h1v1h-1zM750 1077h1v1h-1zM754 1078h2v1h-2zM740 1102h1v1h-1zM742 1102h1v1h-1zM923 378h1v1h-1zM928 380h1v1h-1zM930 384h2v1h-2zM938 384h1v1h-1zM897 397h1v2h-1zM892 405h1v2h-1zM894 401h1v1h-1z" fill="#5e5e5e" shape-rendering="crispEdges"/>
<circle cx="919" cy="566.5" r="2" fill="#666"/>
<circle cx="922.5" cy="568.5" r="2.3" fill="#666"/>
<circle cx="918.5" cy="571" r="2.2" fill="#666"/>
<circle cx="921.5" cy="573.5" r="2" fill="#666"/>
<circle cx="924.8" cy="571.5" r="1.5" fill="#666"/>
<circle cx="917" cy="562.5" r="1" fill="#666"/>
<circle cx="922" cy="563" r="1.3" fill="#666"/>
<circle cx="925" cy="559.5" r="0.9" fill="#666"/>
<circle cx="926" cy="556" r="0.8" fill="#666"/>
<circle cx="931" cy="554" r="0.7" fill="#666"/>
<circle cx="901.5" cy="611" r="1.6" fill="#666"/>
<circle cx="879" cy="637" r="1.6" fill="#666"/>
<circle cx="876" cy="636.5" r="1" fill="#666"/>
<circle cx="881.5" cy="636" r="0.8" fill="#666"/>
<circle cx="916" cy="599" r="1" fill="#666"/>
<circle cx="903" cy="617" r="0.8" fill="#666"/>
<circle cx="902" cy="621" r="0.6" fill="#666"/>
<circle cx="876.3" cy="660" r="1.7" fill="#666"/>
<circle cx="878" cy="657" r="1" fill="#666"/>
<circle cx="864.7" cy="668.5" r="1.4" fill="#666"/>
<circle cx="867.5" cy="665" r="0.9" fill="#666"/>
<circle cx="849.5" cy="682" r="1.3" fill="#666"/>
<circle cx="852.5" cy="681" r="0.8" fill="#666"/>
<circle cx="828" cy="702.5" r="0.9" fill="#666"/>
<circle cx="872.8" cy="697.8" r="1.5" fill="#666"/>
<circle cx="901.3" cy="611.3" r="1.2" fill="#666"/>
</g>
<g id="frame" fill="#000"><rect x="24" y="24" width="1" height="1152"/><rect x="24" y="24" width="1152" height="1"/><rect x="1174" y="24" width="2" height="1152"/><rect x="24" y="1174" width="1152" height="2"/></g>
<text class="c" x="49.5" y="108.5" font-size="52">父系<tspan font-weight="700">：</tspan></text><text class="t" x="217.5" y="106.9" font-size="53.3" textLength="305" lengthAdjust="spacingAndGlyphs">O-MF233720</text><text class="t" x="538.3" y="106.9" font-size="53.3" textLength="17.2" lengthAdjust="spacingAndGlyphs">(</text><text class="c" x="556" y="108.5" font-size="51.5">含下游</text><text class="t" x="713.5" y="106.9" font-size="53.3" textLength="17.2" lengthAdjust="spacingAndGlyphs">)</text>
<g id="legend">
<text class="c" x="55" y="787" font-size="36.5">相对占比</text>
<rect x="58" y="805" width="33" height="33.9" fill="#ffffe5"/>
<rect x="58" y="838.6" width="33" height="33.9" fill="#fff8c1"/>
<rect x="58" y="872.2" width="33" height="33.9" fill="#fee79b"/>
<rect x="58" y="905.8" width="33" height="33.9" fill="#fece65"/>
<rect x="58" y="939.4" width="33" height="33.9" fill="#feac3a"/>
<rect x="58" y="973" width="33" height="33.9" fill="#f68720"/>
<rect x="58" y="1006.6" width="33" height="33.9" fill="#e1640e"/>
<rect x="58" y="1040.2" width="33" height="33.9" fill="#c14702"/>
<rect x="58" y="1073.8" width="33" height="33.9" fill="#933204"/>
<rect x="58" y="1107.4" width="33" height="33.9" fill="#662506"/>
<text class="t" x="99.9" y="834" font-size="29.6" textLength="217.6" lengthAdjust="spacingAndGlyphs">0.011% - 0.011%</text>
<text class="t" x="99.9" y="867.6" font-size="29.6" textLength="217.6" lengthAdjust="spacingAndGlyphs">0.011% - 0.045%</text>
<text class="t" x="99.9" y="901.2" font-size="29.6" textLength="217.6" lengthAdjust="spacingAndGlyphs">0.045% - 0.062%</text>
<text class="t" x="99.9" y="934.8" font-size="29.6" textLength="217.6" lengthAdjust="spacingAndGlyphs">0.062% - 0.071%</text>
<text class="t" x="99.9" y="968.4" font-size="29.6" textLength="217.6" lengthAdjust="spacingAndGlyphs">0.071% - 0.117%</text>
<text class="t" x="99.9" y="1002" font-size="29.6" textLength="217.6" lengthAdjust="spacingAndGlyphs">0.117% - 0.140%</text>
<text class="t" x="99.9" y="1035.6" font-size="29.6" textLength="217.6" lengthAdjust="spacingAndGlyphs">0.140% - 0.175%</text>
<text class="t" x="99.9" y="1069.2" font-size="29.6" textLength="217.6" lengthAdjust="spacingAndGlyphs">0.175% - 0.202%</text>
<text class="t" x="99.9" y="1102.8" font-size="29.6" textLength="217.6" lengthAdjust="spacingAndGlyphs">0.202% - 0.221%</text>
<text class="t" x="99.9" y="1136.4" font-size="29.6" textLength="217.6" lengthAdjust="spacingAndGlyphs">0.221% - 0.357%</text>
</g>
<text x="945.5" y="1138" font-size="28" class="c">作者</text><text x="1001.5" y="1137.6" font-size="29" class="t" textLength="59" lengthAdjust="spacingAndGlyphs">:O1a</text><text x="1060.5" y="1138" font-size="28" class="c">溯源群</text>
</svg>
</body>
</html>
